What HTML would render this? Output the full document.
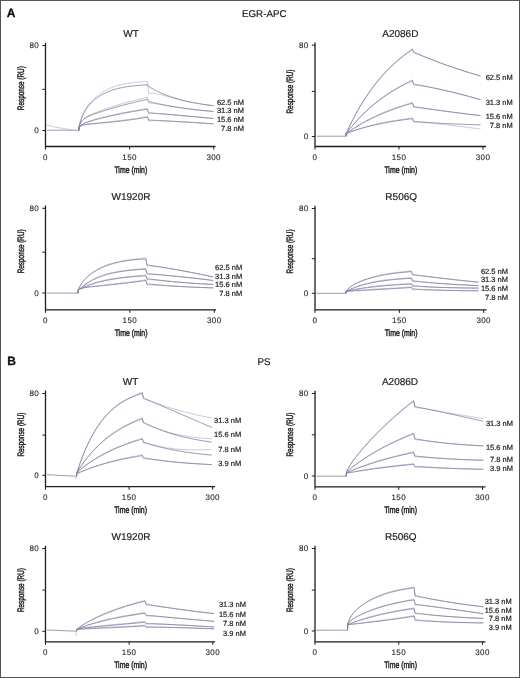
<!DOCTYPE html>
<html><head><meta charset="utf-8"><style>
html,body{margin:0;padding:0;background:#fff;}
body{width:520px;height:678px;overflow:hidden;}
svg{display:block;will-change:transform;}
text{text-rendering:geometricPrecision;font-family:"Liberation Sans", sans-serif;fill:#1e1e1e;stroke:#1e1e1e;stroke-width:0.2px;}
.pl{font-size:12px;font-weight:bold;fill:#111;stroke:#111;stroke-width:0.3px;}
.pt{font-size:9.8px;}
.ti{font-size:10px;}
.tl{font-size:8px;letter-spacing:0.4px;stroke-width:0.1px;}
.cl{font-size:7.5px;}
.at{font-size:9.4px;stroke-width:0.45px;}
.ax{fill:none;stroke:#1e1e1e;stroke-width:1.3;}
.tk{fill:none;stroke:#1e1e1e;stroke-width:1;}
.ft{fill:none;stroke:#7e7e9e;stroke-width:0.8;stroke-linejoin:round;}
.bl{fill:none;stroke:#9090a4;stroke-width:0.9;}
.dt{fill:none;stroke:#c4c4da;stroke-width:0.95;stroke-linejoin:round;}
</style></head><body>
<svg width="520" height="678" viewBox="0 0 520 678">
<rect x="0.5" y="0.5" width="519" height="677" fill="#fff" stroke="#555" stroke-width="1"/>
<text x="6.8" y="16.7" class="pl">A</text>
<text x="264.3" y="16.7" text-anchor="middle" class="pt">EGR-APC</text>
<text x="7.2" y="364.7" class="pl">B</text>
<text x="264" y="364.6" text-anchor="middle" class="pt">PS</text>
<text x="131" y="37" text-anchor="middle" class="ti">WT</text>
<path class="bl" d="M47.00,130.20 L75.80,130.20 L77.80,130.90 L78.80,130.50"/>
<path class="dt" d="M47.00,125.00 L52.00,126.40 L58.00,127.60 L64.00,128.70 L70.00,129.60 L76.00,130.20"/>
<path class="dt" d="M78.80,130.50 L78.99,126.64 L79.35,125.15 L79.81,123.38 L80.35,121.46 L80.97,119.51 L81.65,117.57 L82.39,115.67 L83.19,113.84 L84.04,112.09 L84.94,110.41 L85.88,108.80 L86.87,107.26 L87.89,105.77 L88.96,104.35 L90.07,102.97 L91.22,101.65 L92.40,100.38 L93.62,99.15 L94.87,97.97 L96.15,96.83 L97.47,95.75 L98.82,94.70 L100.20,93.71 L101.61,92.75 L103.05,91.85 L104.52,90.99 L106.02,90.18 L107.55,89.41 L109.10,88.68 L110.68,88.00 L112.29,87.36 L113.92,86.77 L115.58,86.21 L117.27,85.69 L118.98,85.21 L120.71,84.77 L122.47,84.36 L124.25,83.98 L126.06,83.64 L127.89,83.33 L129.74,83.04 L131.61,82.79 L133.51,82.56 L135.43,82.35 L137.37,82.16 L139.33,82.00 L141.32,81.85 L143.33,81.72 L145.35,81.60 L147.40,81.50 L148.60,93.50 L148.87,93.46 L149.32,93.39 L149.86,93.34 L150.49,93.29 L151.18,93.27 L151.94,93.27 L152.74,93.30 L153.59,93.36 L154.48,93.45 L155.42,93.57 L156.39,93.72 L157.40,93.90 L158.44,94.11 L159.52,94.35 L160.63,94.61 L161.77,94.89 L162.93,95.19 L164.13,95.51 L165.35,95.84 L166.59,96.18 L167.87,96.54 L169.16,96.90 L170.48,97.27 L171.83,97.64 L173.19,98.01 L174.58,98.39 L175.99,98.76 L177.42,99.14 L178.87,99.51 L180.34,99.88 L181.83,100.24 L183.35,100.60 L184.87,100.95 L186.42,101.29 L187.99,101.63 L189.57,101.96 L191.18,102.28 L192.80,102.60 L194.43,102.90 L196.09,103.20 L197.76,103.49 L199.44,103.77 L201.15,104.04 L202.87,104.30 L204.60,104.56 L206.35,104.80 L208.11,105.04 L209.89,105.27 L211.69,105.49 L213.50,105.71"/>
<path class="dt" d="M78.80,130.50 L78.99,126.92 L79.35,125.95 L79.81,124.82 L80.35,123.65 L80.97,122.51 L81.65,121.44 L82.39,120.45 L83.19,119.56 L84.04,118.75 L84.94,118.01 L85.88,117.34 L86.87,116.72 L87.89,116.14 L88.96,115.59 L90.07,115.05 L91.22,114.53 L92.40,114.01 L93.62,113.50 L94.87,112.99 L96.15,112.48 L97.47,111.97 L98.82,111.45 L100.20,110.93 L101.61,110.41 L103.05,109.88 L104.52,109.36 L106.02,108.83 L107.55,108.30 L109.10,107.78 L110.68,107.25 L112.29,106.72 L113.92,106.20 L115.58,105.67 L117.27,105.15 L118.98,104.64 L120.71,104.12 L122.47,103.62 L124.25,103.11 L126.06,102.61 L127.89,102.11 L129.74,101.62 L131.61,101.14 L133.51,100.65 L135.43,100.18 L137.37,99.70 L139.33,99.24 L141.32,98.77 L143.33,98.31 L145.35,97.85 L147.40,97.40 L148.60,103.00 L148.87,103.02 L149.32,103.05 L149.86,103.09 L150.49,103.15 L151.18,103.22 L151.94,103.30 L152.74,103.40 L153.59,103.51 L154.48,103.63 L155.42,103.76 L156.39,103.90 L157.40,104.06 L158.44,104.22 L159.52,104.39 L160.63,104.57 L161.77,104.76 L162.93,104.95 L164.13,105.15 L165.35,105.36 L166.59,105.57 L167.87,105.78 L169.16,105.99 L170.48,106.21 L171.83,106.43 L173.19,106.64 L174.58,106.86 L175.99,107.08 L177.42,107.30 L178.87,107.52 L180.34,107.73 L181.83,107.95 L183.35,108.16 L184.87,108.37 L186.42,108.58 L187.99,108.78 L189.57,108.99 L191.18,109.19 L192.80,109.38 L194.43,109.58 L196.09,109.77 L197.76,109.96 L199.44,110.14 L201.15,110.32 L202.87,110.50 L204.60,110.68 L206.35,110.85 L208.11,111.02 L209.89,111.18 L211.69,111.34 L213.50,111.50"/>
<path class="dt" d="M78.80,130.50 L78.99,127.25 L79.35,126.82 L79.81,126.32 L80.35,125.78 L80.97,125.25 L81.65,124.73 L82.39,124.23 L83.19,123.76 L84.04,123.32 L84.94,122.89 L85.88,122.48 L86.87,122.09 L87.89,121.71 L88.96,121.33 L90.07,120.96 L91.22,120.59 L92.40,120.22 L93.62,119.85 L94.87,119.48 L96.15,119.11 L97.47,118.74 L98.82,118.36 L100.20,117.99 L101.61,117.61 L103.05,117.24 L104.52,116.87 L106.02,116.49 L107.55,116.12 L109.10,115.75 L110.68,115.38 L112.29,115.02 L113.92,114.66 L115.58,114.30 L117.27,113.95 L118.98,113.60 L120.71,113.25 L122.47,112.91 L124.25,112.57 L126.06,112.23 L127.89,111.89 L129.74,111.56 L131.61,111.22 L133.51,110.89 L135.43,110.55 L137.37,110.22 L139.33,109.87 L141.32,109.52 L143.33,109.16 L145.35,108.79 L147.40,108.40 L148.60,113.70 L148.87,113.68 L149.32,113.65 L149.86,113.62 L150.49,113.59 L151.18,113.57 L151.94,113.55 L152.74,113.55 L153.59,113.56 L154.48,113.57 L155.42,113.60 L156.39,113.63 L157.40,113.67 L158.44,113.73 L159.52,113.79 L160.63,113.85 L161.77,113.93 L162.93,114.01 L164.13,114.10 L165.35,114.19 L166.59,114.28 L167.87,114.38 L169.16,114.49 L170.48,114.60 L171.83,114.71 L173.19,114.83 L174.58,114.95 L175.99,115.07 L177.42,115.19 L178.87,115.32 L180.34,115.45 L181.83,115.58 L183.35,115.71 L184.87,115.85 L186.42,115.99 L187.99,116.13 L189.57,116.27 L191.18,116.42 L192.80,116.57 L194.43,116.72 L196.09,116.87 L197.76,117.02 L199.44,117.18 L201.15,117.34 L202.87,117.50 L204.60,117.66 L206.35,117.82 L208.11,117.99 L209.89,118.16 L211.69,118.33 L213.50,118.50"/>
<path class="dt" d="M78.80,130.50 L78.99,127.31 L79.35,127.00 L79.81,126.64 L80.35,126.27 L80.97,125.92 L81.65,125.59 L82.39,125.29 L83.19,125.02 L84.04,124.79 L84.94,124.58 L85.88,124.39 L86.87,124.22 L87.89,124.07 L88.96,123.92 L90.07,123.78 L91.22,123.64 L92.40,123.51 L93.62,123.37 L94.87,123.24 L96.15,123.10 L97.47,122.96 L98.82,122.82 L100.20,122.67 L101.61,122.53 L103.05,122.37 L104.52,122.22 L106.02,122.06 L107.55,121.90 L109.10,121.73 L110.68,121.56 L112.29,121.38 L113.92,121.21 L115.58,121.02 L117.27,120.84 L118.98,120.64 L120.71,120.44 L122.47,120.24 L124.25,120.03 L126.06,119.81 L127.89,119.58 L129.74,119.34 L131.61,119.09 L133.51,118.82 L135.43,118.54 L137.37,118.24 L139.33,117.92 L141.32,117.58 L143.33,117.22 L145.35,116.83 L147.40,116.40 L148.60,121.00 L148.87,120.97 L149.32,120.92 L149.86,120.88 L150.49,120.83 L151.18,120.79 L151.94,120.75 L152.74,120.72 L153.59,120.70 L154.48,120.69 L155.42,120.68 L156.39,120.68 L157.40,120.70 L158.44,120.72 L159.52,120.74 L160.63,120.78 L161.77,120.81 L162.93,120.86 L164.13,120.91 L165.35,120.96 L166.59,121.02 L167.87,121.08 L169.16,121.14 L170.48,121.21 L171.83,121.28 L173.19,121.36 L174.58,121.43 L175.99,121.51 L177.42,121.59 L178.87,121.67 L180.34,121.76 L181.83,121.84 L183.35,121.93 L184.87,122.02 L186.42,122.11 L187.99,122.20 L189.57,122.30 L191.18,122.40 L192.80,122.49 L194.43,122.59 L196.09,122.69 L197.76,122.80 L199.44,122.90 L201.15,123.01 L202.87,123.12 L204.60,123.23 L206.35,123.34 L208.11,123.45 L209.89,123.57 L211.69,123.68 L213.50,123.80"/>
<path class="ft" d="M78.80,130.50 L78.99,126.66 L79.35,125.21 L79.81,123.48 L80.35,121.62 L80.97,119.73 L81.65,117.86 L82.39,116.04 L83.19,114.29 L84.04,112.63 L84.94,111.04 L85.88,109.52 L86.87,108.08 L87.89,106.70 L88.96,105.38 L90.07,104.11 L91.22,102.90 L92.40,101.73 L93.62,100.62 L94.87,99.55 L96.15,98.53 L97.47,97.55 L98.82,96.62 L100.20,95.73 L101.61,94.89 L103.05,94.09 L104.52,93.34 L106.02,92.62 L107.55,91.95 L109.10,91.32 L110.68,90.73 L112.29,90.17 L113.92,89.66 L115.58,89.17 L117.27,88.72 L118.98,88.30 L120.71,87.91 L122.47,87.55 L124.25,87.22 L126.06,86.91 L127.89,86.63 L129.74,86.36 L131.61,86.12 L133.51,85.90 L135.43,85.70 L137.37,85.51 L139.33,85.34 L141.32,85.19 L143.33,85.05 L145.35,84.92 L147.40,84.80 L148.60,86.50 L148.87,86.66 L149.32,86.93 L149.86,87.25 L150.49,87.62 L151.18,88.01 L151.94,88.44 L152.74,88.88 L153.59,89.34 L154.48,89.81 L155.42,90.29 L156.39,90.78 L157.40,91.27 L158.44,91.77 L159.52,92.27 L160.63,92.77 L161.77,93.27 L162.93,93.77 L164.13,94.26 L165.35,94.75 L166.59,95.23 L167.87,95.71 L169.16,96.19 L170.48,96.65 L171.83,97.11 L173.19,97.56 L174.58,98.00 L175.99,98.43 L177.42,98.85 L178.87,99.27 L180.34,99.67 L181.83,100.07 L183.35,100.45 L184.87,100.82 L186.42,101.19 L187.99,101.54 L189.57,101.89 L191.18,102.22 L192.80,102.55 L194.43,102.86 L196.09,103.16 L197.76,103.46 L199.44,103.74 L201.15,104.02 L202.87,104.29 L204.60,104.54 L206.35,104.79 L208.11,105.03 L209.89,105.26 L211.69,105.49 L213.50,105.70"/>
<path class="ft" d="M78.80,130.50 L78.99,126.93 L79.35,125.97 L79.81,124.86 L80.35,123.71 L80.97,122.60 L81.65,121.56 L82.39,120.61 L83.19,119.75 L84.04,118.98 L84.94,118.29 L85.88,117.66 L86.87,117.09 L87.89,116.56 L88.96,116.06 L90.07,115.58 L91.22,115.11 L92.40,114.66 L93.62,114.20 L94.87,113.76 L96.15,113.31 L97.47,112.85 L98.82,112.40 L100.20,111.94 L101.61,111.48 L103.05,111.02 L104.52,110.56 L106.02,110.09 L107.55,109.62 L109.10,109.15 L110.68,108.68 L112.29,108.20 L113.92,107.73 L115.58,107.25 L117.27,106.78 L118.98,106.31 L120.71,105.83 L122.47,105.36 L124.25,104.89 L126.06,104.42 L127.89,103.95 L129.74,103.48 L131.61,103.02 L133.51,102.55 L135.43,102.09 L137.37,101.64 L139.33,101.18 L141.32,100.73 L143.33,100.28 L145.35,99.84 L147.40,99.40 L148.60,101.50 L148.87,101.57 L149.32,101.68 L149.86,101.81 L150.49,101.97 L151.18,102.13 L151.94,102.31 L152.74,102.50 L153.59,102.70 L154.48,102.91 L155.42,103.12 L156.39,103.34 L157.40,103.56 L158.44,103.78 L159.52,104.01 L160.63,104.24 L161.77,104.47 L162.93,104.70 L164.13,104.94 L165.35,105.17 L166.59,105.41 L167.87,105.64 L169.16,105.88 L170.48,106.11 L171.83,106.34 L173.19,106.57 L174.58,106.80 L175.99,107.03 L177.42,107.26 L178.87,107.48 L180.34,107.70 L181.83,107.92 L183.35,108.14 L184.87,108.35 L186.42,108.56 L187.99,108.77 L189.57,108.98 L191.18,109.18 L192.80,109.38 L194.43,109.57 L196.09,109.76 L197.76,109.95 L199.44,110.14 L201.15,110.32 L202.87,110.50 L204.60,110.68 L206.35,110.85 L208.11,111.02 L209.89,111.18 L211.69,111.34 L213.50,111.50"/>
<path class="ft" d="M78.80,130.50 L78.99,127.25 L79.35,126.84 L79.81,126.34 L80.35,125.83 L80.97,125.31 L81.65,124.81 L82.39,124.33 L83.19,123.88 L84.04,123.46 L84.94,123.06 L85.88,122.68 L86.87,122.31 L87.89,121.95 L88.96,121.60 L90.07,121.26 L91.22,120.91 L92.40,120.57 L93.62,120.23 L94.87,119.88 L96.15,119.54 L97.47,119.19 L98.82,118.84 L100.20,118.49 L101.61,118.13 L103.05,117.78 L104.52,117.42 L106.02,117.06 L107.55,116.71 L109.10,116.35 L110.68,115.99 L112.29,115.63 L113.92,115.27 L115.58,114.92 L117.27,114.56 L118.98,114.21 L120.71,113.86 L122.47,113.50 L124.25,113.16 L126.06,112.81 L127.89,112.47 L129.74,112.13 L131.61,111.79 L133.51,111.45 L135.43,111.12 L137.37,110.79 L139.33,110.47 L141.32,110.14 L143.33,109.83 L145.35,109.51 L147.40,109.20 L148.60,112.70 L148.87,112.72 L149.32,112.76 L149.86,112.81 L150.49,112.86 L151.18,112.92 L151.94,112.98 L152.74,113.05 L153.59,113.12 L154.48,113.20 L155.42,113.27 L156.39,113.36 L157.40,113.44 L158.44,113.53 L159.52,113.62 L160.63,113.72 L161.77,113.82 L162.93,113.92 L164.13,114.02 L165.35,114.13 L166.59,114.23 L167.87,114.34 L169.16,114.46 L170.48,114.57 L171.83,114.69 L173.19,114.81 L174.58,114.93 L175.99,115.06 L177.42,115.18 L178.87,115.31 L180.34,115.44 L181.83,115.58 L183.35,115.71 L184.87,115.85 L186.42,115.99 L187.99,116.13 L189.57,116.27 L191.18,116.42 L192.80,116.57 L194.43,116.72 L196.09,116.87 L197.76,117.02 L199.44,117.18 L201.15,117.34 L202.87,117.50 L204.60,117.66 L206.35,117.82 L208.11,117.99 L209.89,118.16 L211.69,118.33 L213.50,118.50"/>
<path class="ft" d="M78.80,130.50 L78.99,127.32 L79.35,127.02 L79.81,126.67 L80.35,126.31 L80.97,125.98 L81.65,125.66 L82.39,125.39 L83.19,125.14 L84.04,124.93 L84.94,124.74 L85.88,124.58 L86.87,124.44 L87.89,124.31 L88.96,124.19 L90.07,124.08 L91.22,123.97 L92.40,123.86 L93.62,123.75 L94.87,123.64 L96.15,123.53 L97.47,123.42 L98.82,123.30 L100.20,123.17 L101.61,123.04 L103.05,122.91 L104.52,122.77 L106.02,122.63 L107.55,122.48 L109.10,122.32 L110.68,122.16 L112.29,122.00 L113.92,121.82 L115.58,121.64 L117.27,121.45 L118.98,121.25 L120.71,121.05 L122.47,120.84 L124.25,120.62 L126.06,120.39 L127.89,120.15 L129.74,119.91 L131.61,119.65 L133.51,119.38 L135.43,119.11 L137.37,118.82 L139.33,118.52 L141.32,118.21 L143.33,117.88 L145.35,117.55 L147.40,117.20 L148.60,120.00 L148.87,120.01 L149.32,120.04 L149.86,120.07 L150.49,120.10 L151.18,120.14 L151.94,120.17 L152.74,120.22 L153.59,120.26 L154.48,120.31 L155.42,120.36 L156.39,120.41 L157.40,120.47 L158.44,120.52 L159.52,120.58 L160.63,120.64 L161.77,120.70 L162.93,120.77 L164.13,120.83 L165.35,120.90 L166.59,120.97 L167.87,121.04 L169.16,121.11 L170.48,121.19 L171.83,121.26 L173.19,121.34 L174.58,121.42 L175.99,121.50 L177.42,121.58 L178.87,121.67 L180.34,121.75 L181.83,121.84 L183.35,121.93 L184.87,122.02 L186.42,122.11 L187.99,122.20 L189.57,122.30 L191.18,122.39 L192.80,122.49 L194.43,122.59 L196.09,122.69 L197.76,122.80 L199.44,122.90 L201.15,123.01 L202.87,123.12 L204.60,123.23 L206.35,123.34 L208.11,123.45 L209.89,123.57 L211.69,123.68 L213.50,123.80"/>
<path class="ax" d="M45.5,42.8 V146.5 H215.5"/>
<path class="tk" d="M42.3,45.5 H45.5"/>
<path class="tk" d="M42.3,89.35 H45.5"/>
<path class="tk" d="M42.3,130.5 H45.5"/>
<path class="tk" d="M45.5,146.5 V149.5"/>
<path class="tk" d="M129.6,146.5 V149.5"/>
<path class="tk" d="M213.7,146.5 V149.5"/>
<text x="39.2" y="48.1" text-anchor="end" class="tl">80</text>
<text x="39.2" y="133.1" text-anchor="end" class="tl">0</text>
<text x="45.5" y="159.6" text-anchor="middle" class="tl">0</text>
<text x="129.6" y="159.6" text-anchor="middle" class="tl">150</text>
<text x="213.7" y="159.6" text-anchor="middle" class="tl">300</text>
<text x="130.8" y="172.9" text-anchor="middle" class="at" textLength="32.8" lengthAdjust="spacingAndGlyphs">Time (min)</text>
<text transform="translate(23.9,88.2) rotate(-90)" text-anchor="middle" class="at" textLength="44" lengthAdjust="spacingAndGlyphs">Response (RU)</text>
<text x="244" y="104.6" text-anchor="end" class="cl">62.5 nM</text>
<text x="244" y="113.4" text-anchor="end" class="cl">31.3 nM</text>
<text x="244" y="122.1" text-anchor="end" class="cl">15.6 nM</text>
<text x="244" y="130.6" text-anchor="end" class="cl">7.8 nM</text>
<text x="400.3" y="37" text-anchor="middle" class="ti">A2086D</text>
<path class="bl" d="M316.50,136.20 L346.00,136.20"/>
<path class="dt" d="M346.00,136.20 L346.19,133.29 L346.53,132.54 L346.98,131.57 L347.50,130.43 L348.10,129.16 L348.76,127.77 L349.48,126.27 L350.26,124.68 L351.08,123.02 L351.95,121.28 L352.86,119.49 L353.82,117.64 L354.82,115.75 L355.85,113.82 L356.93,111.86 L358.04,109.87 L359.18,107.86 L360.36,105.84 L361.58,103.80 L362.82,101.75 L364.10,99.70 L365.41,97.65 L366.75,95.60 L368.11,93.56 L369.51,91.53 L370.94,89.51 L372.39,87.51 L373.87,85.53 L375.37,83.56 L376.91,81.62 L378.46,79.70 L380.05,77.80 L381.66,75.94 L383.29,74.10 L384.95,72.29 L386.63,70.51 L388.33,68.77 L390.06,67.05 L391.81,65.36 L393.58,63.71 L395.38,62.09 L397.20,60.50 L399.04,58.93 L400.90,57.40 L402.78,55.89 L404.68,54.41 L406.61,52.96 L408.55,51.52 L410.52,50.10 L412.50,48.70 L413.70,53.10 L413.98,53.18 L414.44,53.31 L415.00,53.48 L415.65,53.68 L416.36,53.90 L417.13,54.16 L417.96,54.44 L418.84,54.75 L419.76,55.08 L420.72,55.44 L421.72,55.81 L422.76,56.20 L423.83,56.61 L424.94,57.03 L426.08,57.47 L427.25,57.93 L428.45,58.39 L429.68,58.86 L430.94,59.35 L432.22,59.84 L433.53,60.34 L434.86,60.85 L436.22,61.36 L437.61,61.88 L439.01,62.41 L440.44,62.94 L441.89,63.47 L443.36,64.01 L444.86,64.55 L446.37,65.09 L447.91,65.63 L449.46,66.18 L451.04,66.72 L452.63,67.27 L454.24,67.82 L455.87,68.37 L457.52,68.92 L459.19,69.47 L460.87,70.02 L462.58,70.57 L464.30,71.12 L466.03,71.67 L467.78,72.21 L469.55,72.76 L471.34,73.30 L473.14,73.85 L474.96,74.39 L476.79,74.93 L478.64,75.46 L480.50,76.00"/>
<path class="dt" d="M346.00,136.20 L346.19,133.45 L346.53,133.00 L346.98,132.42 L347.50,131.73 L348.10,130.96 L348.76,130.12 L349.48,129.21 L350.26,128.25 L351.08,127.24 L351.95,126.19 L352.86,125.09 L353.82,123.97 L354.82,122.81 L355.85,121.63 L356.93,120.42 L358.04,119.20 L359.18,117.96 L360.36,116.71 L361.58,115.44 L362.82,114.17 L364.10,112.90 L365.41,111.62 L366.75,110.34 L368.11,109.06 L369.51,107.79 L370.94,106.52 L372.39,105.26 L373.87,104.00 L375.37,102.76 L376.91,101.52 L378.46,100.30 L380.05,99.10 L381.66,97.90 L383.29,96.72 L384.95,95.56 L386.63,94.41 L388.33,93.28 L390.06,92.17 L391.81,91.08 L393.58,90.00 L395.38,88.93 L397.20,87.88 L399.04,86.85 L400.90,85.83 L402.78,84.82 L404.68,83.83 L406.61,82.84 L408.55,81.86 L410.52,80.88 L412.50,79.90 L413.70,85.10 L413.98,85.10 L414.44,85.12 L415.00,85.14 L415.65,85.18 L416.36,85.23 L417.13,85.29 L417.96,85.37 L418.84,85.47 L419.76,85.58 L420.72,85.71 L421.72,85.85 L422.76,86.01 L423.83,86.18 L424.94,86.36 L426.08,86.56 L427.25,86.77 L428.45,86.99 L429.68,87.22 L430.94,87.47 L432.22,87.72 L433.53,87.98 L434.86,88.26 L436.22,88.54 L437.61,88.83 L439.01,89.13 L440.44,89.44 L441.89,89.76 L443.36,90.08 L444.86,90.42 L446.37,90.76 L447.91,91.12 L449.46,91.48 L451.04,91.85 L452.63,92.23 L454.24,92.63 L455.87,93.02 L457.52,93.43 L459.19,93.85 L460.87,94.28 L462.58,94.72 L464.30,95.17 L466.03,95.63 L467.78,96.10 L469.55,96.58 L471.34,97.07 L473.14,97.57 L474.96,98.09 L476.79,98.61 L478.64,99.15 L480.50,99.70"/>
<path class="dt" d="M346.00,136.20 L346.19,133.56 L346.53,133.31 L346.98,132.99 L347.50,132.61 L348.10,132.18 L348.76,131.71 L349.48,131.21 L350.26,130.67 L351.08,130.10 L351.95,129.51 L352.86,128.90 L353.82,128.26 L354.82,127.61 L355.85,126.94 L356.93,126.26 L358.04,125.57 L359.18,124.87 L360.36,124.15 L361.58,123.43 L362.82,122.71 L364.10,121.98 L365.41,121.24 L366.75,120.51 L368.11,119.78 L369.51,119.04 L370.94,118.31 L372.39,117.58 L373.87,116.85 L375.37,116.13 L376.91,115.41 L378.46,114.70 L380.05,114.00 L381.66,113.30 L383.29,112.61 L384.95,111.93 L386.63,111.26 L388.33,110.59 L390.06,109.93 L391.81,109.28 L393.58,108.64 L395.38,108.01 L397.20,107.38 L399.04,106.75 L400.90,106.13 L402.78,105.52 L404.68,104.90 L406.61,104.28 L408.55,103.66 L410.52,103.04 L412.50,102.40 L413.70,107.60 L413.98,107.60 L414.44,107.60 L415.00,107.61 L415.65,107.63 L416.36,107.65 L417.13,107.70 L417.96,107.75 L418.84,107.82 L419.76,107.90 L420.72,107.99 L421.72,108.09 L422.76,108.21 L423.83,108.33 L424.94,108.46 L426.08,108.61 L427.25,108.76 L428.45,108.91 L429.68,109.08 L430.94,109.24 L432.22,109.42 L433.53,109.60 L434.86,109.78 L436.22,109.96 L437.61,110.15 L439.01,110.35 L440.44,110.54 L441.89,110.74 L443.36,110.94 L444.86,111.14 L446.37,111.34 L447.91,111.55 L449.46,111.76 L451.04,111.96 L452.63,112.17 L454.24,112.38 L455.87,112.59 L457.52,112.80 L459.19,113.02 L460.87,113.23 L462.58,113.44 L464.30,113.66 L466.03,113.87 L467.78,114.09 L469.55,114.30 L471.34,114.52 L473.14,114.74 L474.96,114.95 L476.79,115.17 L478.64,115.38 L480.50,115.60"/>
<path class="dt" d="M346.00,136.20 L346.19,133.62 L346.53,133.48 L346.98,133.29 L347.50,133.08 L348.10,132.83 L348.76,132.57 L349.48,132.28 L350.26,131.98 L351.08,131.66 L351.95,131.33 L352.86,130.98 L353.82,130.63 L354.82,130.27 L355.85,129.90 L356.93,129.52 L358.04,129.15 L359.18,128.76 L360.36,128.38 L361.58,127.99 L362.82,127.60 L364.10,127.22 L365.41,126.83 L366.75,126.45 L368.11,126.06 L369.51,125.69 L370.94,125.31 L372.39,124.94 L373.87,124.58 L375.37,124.22 L376.91,123.87 L378.46,123.52 L380.05,123.18 L381.66,122.85 L383.29,122.52 L384.95,122.21 L386.63,121.90 L388.33,121.59 L390.06,121.30 L391.81,121.01 L393.58,120.72 L395.38,120.44 L397.20,120.16 L399.04,119.89 L400.90,119.62 L402.78,119.34 L404.68,119.07 L406.61,118.79 L408.55,118.50 L410.52,118.21 L412.50,117.90 L413.70,122.30 L413.98,122.28 L414.44,122.26 L415.00,122.23 L415.65,122.21 L416.36,122.20 L417.13,122.20 L417.96,122.21 L418.84,122.23 L419.76,122.26 L420.72,122.31 L421.72,122.36 L422.76,122.43 L423.83,122.50 L424.94,122.58 L426.08,122.68 L427.25,122.78 L428.45,122.88 L429.68,123.00 L430.94,123.12 L432.22,123.24 L433.53,123.37 L434.86,123.51 L436.22,123.65 L437.61,123.80 L439.01,123.95 L440.44,124.11 L441.89,124.27 L443.36,124.43 L444.86,124.60 L446.37,124.77 L447.91,124.95 L449.46,125.13 L451.04,125.31 L452.63,125.50 L454.24,125.69 L455.87,125.89 L457.52,126.09 L459.19,126.29 L460.87,126.50 L462.58,126.71 L464.30,126.93 L466.03,127.15 L467.78,127.38 L469.55,127.61 L471.34,127.85 L473.14,128.09 L474.96,128.33 L476.79,128.58 L478.64,128.84 L480.50,129.10"/>
<path class="ft" d="M346.00,136.20 L346.19,133.29 L346.53,132.55 L346.98,131.60 L347.50,130.48 L348.10,129.22 L348.76,127.84 L349.48,126.37 L350.26,124.80 L351.08,123.16 L351.95,121.45 L352.86,119.68 L353.82,117.86 L354.82,116.00 L355.85,114.09 L356.93,112.16 L358.04,110.20 L359.18,108.21 L360.36,106.21 L361.58,104.20 L362.82,102.18 L364.10,100.15 L365.41,98.13 L366.75,96.10 L368.11,94.08 L369.51,92.07 L370.94,90.07 L372.39,88.08 L373.87,86.11 L375.37,84.16 L376.91,82.22 L378.46,80.31 L380.05,78.42 L381.66,76.55 L383.29,74.71 L384.95,72.90 L386.63,71.12 L388.33,69.36 L390.06,67.64 L391.81,65.95 L393.58,64.28 L395.38,62.66 L397.20,61.06 L399.04,59.50 L400.90,57.97 L402.78,56.47 L404.68,55.01 L406.61,53.58 L408.55,52.19 L410.52,50.83 L412.50,49.50 L413.70,52.10 L413.98,52.22 L414.44,52.42 L415.00,52.67 L415.65,52.95 L416.36,53.26 L417.13,53.60 L417.96,53.95 L418.84,54.33 L419.76,54.72 L420.72,55.13 L421.72,55.55 L422.76,55.98 L423.83,56.43 L424.94,56.88 L426.08,57.35 L427.25,57.82 L428.45,58.30 L429.68,58.79 L430.94,59.29 L432.22,59.80 L433.53,60.31 L434.86,60.82 L436.22,61.34 L437.61,61.87 L439.01,62.39 L440.44,62.93 L441.89,63.46 L443.36,64.00 L444.86,64.54 L446.37,65.08 L447.91,65.63 L449.46,66.17 L451.04,66.72 L452.63,67.27 L454.24,67.82 L455.87,68.37 L457.52,68.92 L459.19,69.47 L460.87,70.02 L462.58,70.57 L464.30,71.12 L466.03,71.67 L467.78,72.21 L469.55,72.76 L471.34,73.30 L473.14,73.85 L474.96,74.39 L476.79,74.93 L478.64,75.46 L480.50,76.00"/>
<path class="ft" d="M346.00,136.20 L346.19,133.46 L346.53,133.01 L346.98,132.44 L347.50,131.77 L348.10,131.02 L348.76,130.20 L349.48,129.31 L350.26,128.37 L351.08,127.38 L351.95,126.35 L352.86,125.29 L353.82,124.18 L354.82,123.05 L355.85,121.90 L356.93,120.72 L358.04,119.52 L359.18,118.31 L360.36,117.08 L361.58,115.85 L362.82,114.60 L364.10,113.35 L365.41,112.10 L366.75,110.84 L368.11,109.58 L369.51,108.33 L370.94,107.08 L372.39,105.83 L373.87,104.59 L375.37,103.35 L376.91,102.13 L378.46,100.91 L380.05,99.71 L381.66,98.52 L383.29,97.34 L384.95,96.17 L386.63,95.02 L388.33,93.88 L390.06,92.76 L391.81,91.66 L393.58,90.57 L395.38,89.50 L397.20,88.45 L399.04,87.41 L400.90,86.40 L402.78,85.40 L404.68,84.42 L406.61,83.46 L408.55,82.52 L410.52,81.60 L412.50,80.70 L413.70,84.10 L413.98,84.15 L414.44,84.23 L415.00,84.34 L415.65,84.45 L416.36,84.58 L417.13,84.73 L417.96,84.88 L418.84,85.04 L419.76,85.21 L420.72,85.40 L421.72,85.59 L422.76,85.79 L423.83,85.99 L424.94,86.21 L426.08,86.43 L427.25,86.67 L428.45,86.91 L429.68,87.15 L430.94,87.41 L432.22,87.67 L433.53,87.95 L434.86,88.23 L436.22,88.51 L437.61,88.81 L439.01,89.11 L440.44,89.43 L441.89,89.75 L443.36,90.08 L444.86,90.41 L446.37,90.76 L447.91,91.12 L449.46,91.48 L451.04,91.85 L452.63,92.23 L454.24,92.62 L455.87,93.02 L457.52,93.43 L459.19,93.85 L460.87,94.28 L462.58,94.72 L464.30,95.17 L466.03,95.63 L467.78,96.10 L469.55,96.58 L471.34,97.07 L473.14,97.57 L474.96,98.09 L476.79,98.61 L478.64,99.15 L480.50,99.70"/>
<path class="ft" d="M346.00,136.20 L346.19,133.57 L346.53,133.33 L346.98,133.02 L347.50,132.65 L348.10,132.24 L348.76,131.79 L349.48,131.30 L350.26,130.79 L351.08,130.24 L351.95,129.68 L352.86,129.09 L353.82,128.48 L354.82,127.85 L355.85,127.21 L356.93,126.56 L358.04,125.89 L359.18,125.22 L360.36,124.53 L361.58,123.84 L362.82,123.14 L364.10,122.43 L365.41,121.72 L366.75,121.01 L368.11,120.30 L369.51,119.58 L370.94,118.86 L372.39,118.15 L373.87,117.44 L375.37,116.73 L376.91,116.02 L378.46,115.31 L380.05,114.61 L381.66,113.92 L383.29,113.23 L384.95,112.54 L386.63,111.86 L388.33,111.19 L390.06,110.52 L391.81,109.87 L393.58,109.22 L395.38,108.57 L397.20,107.94 L399.04,107.32 L400.90,106.70 L402.78,106.09 L404.68,105.50 L406.61,104.91 L408.55,104.33 L410.52,103.76 L412.50,103.20 L413.70,106.60 L413.98,106.64 L414.44,106.71 L415.00,106.80 L415.65,106.90 L416.36,107.01 L417.13,107.13 L417.96,107.26 L418.84,107.39 L419.76,107.53 L420.72,107.68 L421.72,107.83 L422.76,107.98 L423.83,108.15 L424.94,108.31 L426.08,108.48 L427.25,108.65 L428.45,108.83 L429.68,109.01 L430.94,109.19 L432.22,109.37 L433.53,109.56 L434.86,109.75 L436.22,109.94 L437.61,110.14 L439.01,110.33 L440.44,110.53 L441.89,110.73 L443.36,110.93 L444.86,111.14 L446.37,111.34 L447.91,111.55 L449.46,111.75 L451.04,111.96 L452.63,112.17 L454.24,112.38 L455.87,112.59 L457.52,112.80 L459.19,113.02 L460.87,113.23 L462.58,113.44 L464.30,113.66 L466.03,113.87 L467.78,114.09 L469.55,114.30 L471.34,114.52 L473.14,114.74 L474.96,114.95 L476.79,115.17 L478.64,115.38 L480.50,115.60"/>
<path class="ft" d="M346.00,136.20 L346.19,133.63 L346.53,133.49 L346.98,133.32 L347.50,133.12 L348.10,132.89 L348.76,132.64 L349.48,132.38 L350.26,132.10 L351.08,131.80 L351.95,131.49 L352.86,131.17 L353.82,130.85 L354.82,130.51 L355.85,130.17 L356.93,129.82 L358.04,129.47 L359.18,129.11 L360.36,128.75 L361.58,128.39 L362.82,128.03 L364.10,127.67 L365.41,127.31 L366.75,126.94 L368.11,126.58 L369.51,126.23 L370.94,125.87 L372.39,125.51 L373.87,125.16 L375.37,124.82 L376.91,124.47 L378.46,124.13 L380.05,123.80 L381.66,123.46 L383.29,123.14 L384.95,122.82 L386.63,122.50 L388.33,122.19 L390.06,121.89 L391.81,121.59 L393.58,121.29 L395.38,121.01 L397.20,120.73 L399.04,120.45 L400.90,120.18 L402.78,119.92 L404.68,119.66 L406.61,119.41 L408.55,119.17 L410.52,118.93 L412.50,118.70 L413.70,121.30 L413.98,121.33 L414.44,121.37 L415.00,121.42 L415.65,121.48 L416.36,121.55 L417.13,121.62 L417.96,121.69 L418.84,121.76 L419.76,121.84 L420.72,121.92 L421.72,122.00 L422.76,122.09 L423.83,122.17 L424.94,122.26 L426.08,122.34 L427.25,122.43 L428.45,122.51 L429.68,122.60 L430.94,122.68 L432.22,122.77 L433.53,122.85 L434.86,122.94 L436.22,123.02 L437.61,123.10 L439.01,123.19 L440.44,123.27 L441.89,123.35 L443.36,123.42 L444.86,123.50 L446.37,123.58 L447.91,123.65 L449.46,123.73 L451.04,123.80 L452.63,123.87 L454.24,123.94 L455.87,124.01 L457.52,124.07 L459.19,124.14 L460.87,124.20 L462.58,124.26 L464.30,124.32 L466.03,124.38 L467.78,124.44 L469.55,124.49 L471.34,124.55 L473.14,124.60 L474.96,124.65 L476.79,124.70 L478.64,124.75 L480.50,124.80"/>
<path class="ax" d="M315,42.5 V146.5 H486"/>
<path class="tk" d="M311.8,45.2 H315"/>
<path class="tk" d="M311.8,91.4 H315"/>
<path class="tk" d="M311.8,136.5 H315"/>
<path class="tk" d="M315,146.5 V149.5"/>
<path class="tk" d="M399,146.5 V149.5"/>
<path class="tk" d="M483,146.5 V149.5"/>
<text x="308.7" y="47.8" text-anchor="end" class="tl">80</text>
<text x="308.7" y="139.1" text-anchor="end" class="tl">0</text>
<text x="315" y="159.6" text-anchor="middle" class="tl">0</text>
<text x="399" y="159.6" text-anchor="middle" class="tl">150</text>
<text x="483" y="159.6" text-anchor="middle" class="tl">300</text>
<text x="400.8" y="172.9" text-anchor="middle" class="at" textLength="32.8" lengthAdjust="spacingAndGlyphs">Time (min)</text>
<text transform="translate(293.4,91.5) rotate(-90)" text-anchor="middle" class="at" textLength="44" lengthAdjust="spacingAndGlyphs">Response (RU)</text>
<text x="512.8" y="80" text-anchor="end" class="cl">62.5 nM</text>
<text x="512.8" y="105" text-anchor="end" class="cl">31.3 nM</text>
<text x="512.8" y="118.5" text-anchor="end" class="cl">15.6 nM</text>
<text x="512.8" y="128" text-anchor="end" class="cl">7.8 nM</text>
<text x="131" y="200" text-anchor="middle" class="ti">W1920R</text>
<path class="bl" d="M47.00,293.10 L78.00,293.10"/>
<path class="dt" d="M78.00,293.10 L78.19,290.11 L78.54,289.26 L79.00,288.23 L79.53,287.11 L80.14,285.94 L80.82,284.76 L81.55,283.59 L82.34,282.44 L83.18,281.32 L84.06,280.22 L85.00,279.15 L85.97,278.11 L86.99,277.10 L88.05,276.12 L89.14,275.16 L90.27,274.23 L91.44,273.32 L92.64,272.43 L93.88,271.58 L95.15,270.75 L96.45,269.95 L97.79,269.18 L99.15,268.43 L100.55,267.72 L101.97,267.04 L103.42,266.38 L104.90,265.76 L106.41,265.17 L107.95,264.60 L109.51,264.07 L111.10,263.57 L112.71,263.09 L114.35,262.65 L116.02,262.23 L117.71,261.83 L119.42,261.47 L121.16,261.12 L122.92,260.80 L124.71,260.50 L126.51,260.22 L128.34,259.96 L130.20,259.71 L132.07,259.48 L133.97,259.25 L135.89,259.04 L137.83,258.83 L139.79,258.63 L141.77,258.42 L143.78,258.22 L145.80,258.00 L147.00,265.90 L147.28,265.90 L147.73,265.89 L148.29,265.90 L148.93,265.91 L149.64,265.94 L150.41,265.98 L151.23,266.03 L152.10,266.10 L153.01,266.18 L153.97,266.27 L154.96,266.38 L155.99,266.50 L157.06,266.63 L158.16,266.77 L159.29,266.92 L160.45,267.09 L161.64,267.26 L162.86,267.44 L164.11,267.64 L165.38,267.83 L166.68,268.04 L168.01,268.26 L169.35,268.48 L170.73,268.71 L172.12,268.94 L173.54,269.19 L174.98,269.44 L176.44,269.69 L177.93,269.96 L179.43,270.22 L180.95,270.50 L182.49,270.78 L184.06,271.07 L185.64,271.36 L187.24,271.66 L188.86,271.97 L190.49,272.29 L192.15,272.61 L193.82,272.93 L195.51,273.27 L197.22,273.61 L198.94,273.96 L200.68,274.31 L202.44,274.67 L204.21,275.04 L206.00,275.42 L207.80,275.80 L209.62,276.19 L211.45,276.59 L213.30,277.00"/>
<path class="dt" d="M78.00,293.10 L78.19,290.41 L78.54,290.07 L79.00,289.63 L79.53,289.13 L80.14,288.57 L80.82,287.96 L81.55,287.33 L82.34,286.66 L83.18,285.98 L84.06,285.28 L85.00,284.58 L85.97,283.87 L86.99,283.16 L88.05,282.45 L89.14,281.75 L90.27,281.06 L91.44,280.38 L92.64,279.72 L93.88,279.07 L95.15,278.44 L96.45,277.82 L97.79,277.23 L99.15,276.66 L100.55,276.10 L101.97,275.58 L103.42,275.07 L104.90,274.58 L106.41,274.12 L107.95,273.68 L109.51,273.27 L111.10,272.87 L112.71,272.50 L114.35,272.15 L116.02,271.82 L117.71,271.51 L119.42,271.22 L121.16,270.95 L122.92,270.70 L124.71,270.46 L126.51,270.24 L128.34,270.03 L130.20,269.83 L132.07,269.64 L133.97,269.46 L135.89,269.29 L137.83,269.12 L139.79,268.95 L141.77,268.77 L143.78,268.59 L145.80,268.40 L147.00,274.60 L147.28,274.58 L147.73,274.55 L148.29,274.52 L148.93,274.49 L149.64,274.47 L150.41,274.46 L151.23,274.46 L152.10,274.47 L153.01,274.49 L153.97,274.52 L154.96,274.56 L155.99,274.61 L157.06,274.67 L158.16,274.73 L159.29,274.81 L160.45,274.89 L161.64,274.98 L162.86,275.08 L164.11,275.18 L165.38,275.29 L166.68,275.41 L168.01,275.53 L169.35,275.65 L170.73,275.78 L172.12,275.91 L173.54,276.05 L174.98,276.19 L176.44,276.34 L177.93,276.49 L179.43,276.64 L180.95,276.79 L182.49,276.95 L184.06,277.12 L185.64,277.29 L187.24,277.46 L188.86,277.63 L190.49,277.81 L192.15,277.99 L193.82,278.18 L195.51,278.37 L197.22,278.57 L198.94,278.76 L200.68,278.97 L202.44,279.17 L204.21,279.38 L206.00,279.60 L207.80,279.82 L209.62,280.04 L211.45,280.27 L213.30,280.50"/>
<path class="dt" d="M78.00,293.10 L78.19,290.45 L78.54,290.17 L79.00,289.84 L79.53,289.47 L80.14,289.07 L80.82,288.65 L81.55,288.23 L82.34,287.81 L83.18,287.38 L84.06,286.95 L85.00,286.52 L85.97,286.09 L86.99,285.66 L88.05,285.23 L89.14,284.81 L90.27,284.39 L91.44,283.97 L92.64,283.56 L93.88,283.15 L95.15,282.75 L96.45,282.36 L97.79,281.97 L99.15,281.59 L100.55,281.22 L101.97,280.86 L103.42,280.51 L104.90,280.17 L106.41,279.85 L107.95,279.53 L109.51,279.23 L111.10,278.93 L112.71,278.65 L114.35,278.38 L116.02,278.13 L117.71,277.88 L119.42,277.65 L121.16,277.42 L122.92,277.21 L124.71,277.01 L126.51,276.81 L128.34,276.62 L130.20,276.44 L132.07,276.27 L133.97,276.09 L135.89,275.92 L137.83,275.75 L139.79,275.57 L141.77,275.39 L143.78,275.20 L145.80,275.00 L147.00,279.70 L147.28,279.69 L147.73,279.68 L148.29,279.68 L148.93,279.68 L149.64,279.69 L150.41,279.71 L151.23,279.75 L152.10,279.79 L153.01,279.84 L153.97,279.90 L154.96,279.98 L155.99,280.06 L157.06,280.15 L158.16,280.24 L159.29,280.34 L160.45,280.45 L161.64,280.56 L162.86,280.68 L164.11,280.80 L165.38,280.92 L166.68,281.05 L168.01,281.17 L169.35,281.30 L170.73,281.43 L172.12,281.56 L173.54,281.69 L174.98,281.82 L176.44,281.95 L177.93,282.08 L179.43,282.20 L180.95,282.33 L182.49,282.46 L184.06,282.58 L185.64,282.71 L187.24,282.83 L188.86,282.95 L190.49,283.07 L192.15,283.19 L193.82,283.31 L195.51,283.43 L197.22,283.54 L198.94,283.66 L200.68,283.77 L202.44,283.88 L204.21,283.99 L206.00,284.09 L207.80,284.20 L209.62,284.30 L211.45,284.40 L213.30,284.50"/>
<path class="dt" d="M78.00,293.10 L78.19,290.42 L78.54,290.10 L79.00,289.75 L79.53,289.38 L80.14,289.02 L80.82,288.68 L81.55,288.38 L82.34,288.10 L83.18,287.85 L84.06,287.63 L85.00,287.43 L85.97,287.25 L86.99,287.08 L88.05,286.91 L89.14,286.76 L90.27,286.61 L91.44,286.46 L92.64,286.31 L93.88,286.16 L95.15,286.01 L96.45,285.85 L97.79,285.70 L99.15,285.54 L100.55,285.38 L101.97,285.21 L103.42,285.05 L104.90,284.88 L106.41,284.71 L107.95,284.54 L109.51,284.36 L111.10,284.19 L112.71,284.01 L114.35,283.82 L116.02,283.64 L117.71,283.45 L119.42,283.26 L121.16,283.06 L122.92,282.87 L124.71,282.66 L126.51,282.45 L128.34,282.23 L130.20,282.01 L132.07,281.77 L133.97,281.53 L135.89,281.27 L137.83,280.99 L139.79,280.70 L141.77,280.39 L143.78,280.06 L145.80,279.70 L147.00,284.90 L147.28,284.88 L147.73,284.86 L148.29,284.84 L148.93,284.83 L149.64,284.82 L150.41,284.82 L151.23,284.83 L152.10,284.84 L153.01,284.87 L153.97,284.91 L154.96,284.95 L155.99,285.00 L157.06,285.06 L158.16,285.12 L159.29,285.19 L160.45,285.27 L161.64,285.34 L162.86,285.42 L164.11,285.51 L165.38,285.59 L166.68,285.68 L168.01,285.77 L169.35,285.86 L170.73,285.95 L172.12,286.03 L173.54,286.12 L174.98,286.21 L176.44,286.30 L177.93,286.39 L179.43,286.47 L180.95,286.56 L182.49,286.64 L184.06,286.72 L185.64,286.81 L187.24,286.89 L188.86,286.96 L190.49,287.04 L192.15,287.12 L193.82,287.19 L195.51,287.26 L197.22,287.33 L198.94,287.40 L200.68,287.47 L202.44,287.54 L204.21,287.60 L206.00,287.66 L207.80,287.73 L209.62,287.79 L211.45,287.84 L213.30,287.90"/>
<path class="ft" d="M78.00,293.10 L78.19,290.12 L78.54,289.27 L79.00,288.26 L79.53,287.15 L80.14,286.00 L80.82,284.84 L81.55,283.69 L82.34,282.56 L83.18,281.46 L84.06,280.39 L85.00,279.34 L85.97,278.33 L86.99,277.35 L88.05,276.39 L89.14,275.46 L90.27,274.55 L91.44,273.67 L92.64,272.81 L93.88,271.98 L95.15,271.18 L96.45,270.40 L97.79,269.65 L99.15,268.93 L100.55,268.24 L101.97,267.58 L103.42,266.94 L104.90,266.33 L106.41,265.75 L107.95,265.20 L109.51,264.68 L111.10,264.18 L112.71,263.71 L114.35,263.26 L116.02,262.84 L117.71,262.44 L119.42,262.07 L121.16,261.72 L122.92,261.39 L124.71,261.08 L126.51,260.79 L128.34,260.52 L130.20,260.27 L132.07,260.04 L133.97,259.82 L135.89,259.62 L137.83,259.43 L139.79,259.25 L141.77,259.09 L143.78,258.94 L145.80,258.80 L147.00,264.90 L147.28,264.94 L147.73,265.01 L148.29,265.09 L148.93,265.19 L149.64,265.30 L150.41,265.41 L151.23,265.54 L152.10,265.67 L153.01,265.81 L153.97,265.96 L154.96,266.11 L155.99,266.27 L157.06,266.44 L158.16,266.61 L159.29,266.80 L160.45,266.98 L161.64,267.17 L162.86,267.37 L164.11,267.58 L165.38,267.79 L166.68,268.00 L168.01,268.23 L169.35,268.46 L170.73,268.69 L172.12,268.93 L173.54,269.18 L174.98,269.43 L176.44,269.69 L177.93,269.95 L179.43,270.22 L180.95,270.50 L182.49,270.78 L184.06,271.07 L185.64,271.36 L187.24,271.66 L188.86,271.97 L190.49,272.29 L192.15,272.61 L193.82,272.93 L195.51,273.27 L197.22,273.61 L198.94,273.96 L200.68,274.31 L202.44,274.67 L204.21,275.04 L206.00,275.42 L207.80,275.80 L209.62,276.19 L211.45,276.59 L213.30,277.00"/>
<path class="ft" d="M78.00,293.10 L78.19,290.42 L78.54,290.08 L79.00,289.66 L79.53,289.17 L80.14,288.63 L80.82,288.04 L81.55,287.42 L82.34,286.78 L83.18,286.12 L84.06,285.45 L85.00,284.77 L85.97,284.09 L86.99,283.40 L88.05,282.72 L89.14,282.05 L90.27,281.39 L91.44,280.73 L92.64,280.10 L93.88,279.47 L95.15,278.87 L96.45,278.28 L97.79,277.71 L99.15,277.16 L100.55,276.62 L101.97,276.11 L103.42,275.62 L104.90,275.15 L106.41,274.71 L107.95,274.28 L109.51,273.87 L111.10,273.48 L112.71,273.11 L114.35,272.77 L116.02,272.43 L117.71,272.12 L119.42,271.83 L121.16,271.55 L122.92,271.29 L124.71,271.04 L126.51,270.81 L128.34,270.60 L130.20,270.40 L132.07,270.21 L133.97,270.03 L135.89,269.87 L137.83,269.71 L139.79,269.57 L141.77,269.44 L143.78,269.31 L145.80,269.20 L147.00,273.60 L147.28,273.62 L147.73,273.66 L148.29,273.71 L148.93,273.76 L149.64,273.83 L150.41,273.89 L151.23,273.96 L152.10,274.04 L153.01,274.12 L153.97,274.20 L154.96,274.29 L155.99,274.38 L157.06,274.48 L158.16,274.58 L159.29,274.68 L160.45,274.79 L161.64,274.90 L162.86,275.01 L164.11,275.13 L165.38,275.25 L166.68,275.37 L168.01,275.50 L169.35,275.63 L170.73,275.76 L172.12,275.90 L173.54,276.04 L174.98,276.18 L176.44,276.33 L177.93,276.48 L179.43,276.63 L180.95,276.79 L182.49,276.95 L184.06,277.12 L185.64,277.28 L187.24,277.46 L188.86,277.63 L190.49,277.81 L192.15,277.99 L193.82,278.18 L195.51,278.37 L197.22,278.57 L198.94,278.76 L200.68,278.97 L202.44,279.17 L204.21,279.38 L206.00,279.60 L207.80,279.82 L209.62,280.04 L211.45,280.27 L213.30,280.50"/>
<path class="ft" d="M78.00,293.10 L78.19,290.45 L78.54,290.19 L79.00,289.87 L79.53,289.51 L80.14,289.13 L80.82,288.73 L81.55,288.33 L82.34,287.93 L83.18,287.52 L84.06,287.11 L85.00,286.71 L85.97,286.30 L86.99,285.90 L88.05,285.50 L89.14,285.11 L90.27,284.71 L91.44,284.32 L92.64,283.94 L93.88,283.55 L95.15,283.18 L96.45,282.81 L97.79,282.45 L99.15,282.09 L100.55,281.74 L101.97,281.40 L103.42,281.07 L104.90,280.75 L106.41,280.43 L107.95,280.13 L109.51,279.83 L111.10,279.54 L112.71,279.27 L114.35,279.00 L116.02,278.74 L117.71,278.49 L119.42,278.25 L121.16,278.02 L122.92,277.80 L124.71,277.59 L126.51,277.39 L128.34,277.19 L130.20,277.01 L132.07,276.83 L133.97,276.66 L135.89,276.50 L137.83,276.34 L139.79,276.20 L141.77,276.06 L143.78,275.93 L145.80,275.80 L147.00,278.70 L147.28,278.74 L147.73,278.80 L148.29,278.87 L148.93,278.96 L149.64,279.05 L150.41,279.15 L151.23,279.25 L152.10,279.36 L153.01,279.47 L153.97,279.59 L154.96,279.71 L155.99,279.83 L157.06,279.96 L158.16,280.09 L159.29,280.22 L160.45,280.35 L161.64,280.48 L162.86,280.61 L164.11,280.74 L165.38,280.88 L166.68,281.01 L168.01,281.14 L169.35,281.28 L170.73,281.41 L172.12,281.54 L173.54,281.68 L174.98,281.81 L176.44,281.94 L177.93,282.07 L179.43,282.20 L180.95,282.33 L182.49,282.46 L184.06,282.58 L185.64,282.71 L187.24,282.83 L188.86,282.95 L190.49,283.07 L192.15,283.19 L193.82,283.31 L195.51,283.43 L197.22,283.54 L198.94,283.66 L200.68,283.77 L202.44,283.88 L204.21,283.99 L206.00,284.09 L207.80,284.20 L209.62,284.30 L211.45,284.40 L213.30,284.50"/>
<path class="ft" d="M78.00,293.10 L78.19,290.42 L78.54,290.12 L79.00,289.77 L79.53,289.42 L80.14,289.08 L80.82,288.76 L81.55,288.47 L82.34,288.22 L83.18,287.99 L84.06,287.80 L85.00,287.62 L85.97,287.46 L86.99,287.32 L88.05,287.18 L89.14,287.06 L90.27,286.93 L91.44,286.81 L92.64,286.68 L93.88,286.56 L95.15,286.43 L96.45,286.31 L97.79,286.17 L99.15,286.04 L100.55,285.90 L101.97,285.75 L103.42,285.61 L104.90,285.45 L106.41,285.30 L107.95,285.13 L109.51,284.97 L111.10,284.80 L112.71,284.62 L114.35,284.44 L116.02,284.25 L117.71,284.06 L119.42,283.87 L121.16,283.66 L122.92,283.46 L124.71,283.24 L126.51,283.03 L128.34,282.80 L130.20,282.57 L132.07,282.33 L133.97,282.09 L135.89,281.84 L137.83,281.59 L139.79,281.33 L141.77,281.06 L143.78,280.78 L145.80,280.50 L147.00,283.90 L147.28,283.93 L147.73,283.98 L148.29,284.04 L148.93,284.10 L149.64,284.17 L150.41,284.25 L151.23,284.33 L152.10,284.42 L153.01,284.50 L153.97,284.59 L154.96,284.68 L155.99,284.78 L157.06,284.87 L158.16,284.97 L159.29,285.06 L160.45,285.16 L161.64,285.26 L162.86,285.35 L164.11,285.45 L165.38,285.55 L166.68,285.64 L168.01,285.74 L169.35,285.83 L170.73,285.93 L172.12,286.02 L173.54,286.11 L174.98,286.20 L176.44,286.29 L177.93,286.38 L179.43,286.47 L180.95,286.55 L182.49,286.64 L184.06,286.72 L185.64,286.80 L187.24,286.88 L188.86,286.96 L190.49,287.04 L192.15,287.12 L193.82,287.19 L195.51,287.26 L197.22,287.33 L198.94,287.40 L200.68,287.47 L202.44,287.54 L204.21,287.60 L206.00,287.66 L207.80,287.73 L209.62,287.79 L211.45,287.84 L213.30,287.90"/>
<path class="ax" d="M45.5,205.5 V309.8 H216"/>
<path class="tk" d="M42.3,208.3 H45.5"/>
<path class="tk" d="M42.3,252.2 H45.5"/>
<path class="tk" d="M42.3,293 H45.5"/>
<path class="tk" d="M45.5,309.8 V312.8"/>
<path class="tk" d="M129.9,309.8 V312.8"/>
<path class="tk" d="M214.3,309.8 V312.8"/>
<text x="39.2" y="210.9" text-anchor="end" class="tl">80</text>
<text x="39.2" y="295.6" text-anchor="end" class="tl">0</text>
<text x="45.5" y="322.9" text-anchor="middle" class="tl">0</text>
<text x="129.9" y="322.9" text-anchor="middle" class="tl">150</text>
<text x="214.3" y="322.9" text-anchor="middle" class="tl">300</text>
<text x="131.05" y="336.2" text-anchor="middle" class="at" textLength="32.8" lengthAdjust="spacingAndGlyphs">Time (min)</text>
<text transform="translate(23.9,251.3) rotate(-90)" text-anchor="middle" class="at" textLength="44" lengthAdjust="spacingAndGlyphs">Response (RU)</text>
<text x="242.2" y="269.8" text-anchor="end" class="cl">62.5 nM</text>
<text x="242.2" y="278.6" text-anchor="end" class="cl">31.3 nM</text>
<text x="242.2" y="287.3" text-anchor="end" class="cl">15.6 nM</text>
<text x="242.2" y="296.1" text-anchor="end" class="cl">7.8 nM</text>
<text x="401.2" y="200.2" text-anchor="middle" class="ti">R506Q</text>
<path class="bl" d="M316.50,293.30 L346.00,293.30"/>
<path class="dt" d="M346.00,293.30 L346.18,291.04 L346.52,290.57 L346.96,290.02 L347.48,289.41 L348.07,288.78 L348.72,288.15 L349.43,287.52 L350.19,286.90 L350.99,286.29 L351.85,285.70 L352.75,285.12 L353.69,284.55 L354.67,283.99 L355.69,283.44 L356.75,282.90 L357.84,282.37 L358.97,281.85 L360.13,281.33 L361.32,280.83 L362.55,280.33 L363.80,279.84 L365.09,279.36 L366.40,278.90 L367.75,278.44 L369.12,278.00 L370.52,277.57 L371.95,277.15 L373.41,276.74 L374.89,276.35 L376.40,275.98 L377.93,275.61 L379.48,275.27 L381.07,274.93 L382.67,274.61 L384.30,274.31 L385.96,274.02 L387.63,273.74 L389.33,273.47 L391.05,273.22 L392.80,272.98 L394.56,272.74 L396.35,272.52 L398.16,272.30 L399.99,272.09 L401.84,271.88 L403.71,271.67 L405.60,271.46 L407.52,271.25 L409.45,271.03 L411.40,270.80 L412.60,275.50 L412.88,275.49 L413.33,275.49 L413.88,275.48 L414.52,275.49 L415.22,275.50 L415.99,275.53 L416.80,275.57 L417.67,275.62 L418.57,275.68 L419.52,275.75 L420.51,275.83 L421.54,275.92 L422.60,276.03 L423.69,276.14 L424.81,276.26 L425.97,276.38 L427.15,276.51 L428.37,276.65 L429.61,276.79 L430.87,276.94 L432.16,277.09 L433.48,277.25 L434.82,277.41 L436.18,277.57 L437.57,277.74 L438.98,277.90 L440.41,278.07 L441.87,278.24 L443.34,278.41 L444.83,278.59 L446.35,278.76 L447.88,278.94 L449.43,279.12 L451.01,279.29 L452.60,279.47 L454.21,279.65 L455.83,279.83 L457.48,280.01 L459.14,280.19 L460.82,280.38 L462.51,280.56 L464.23,280.74 L465.96,280.92 L467.70,281.11 L469.46,281.29 L471.24,281.47 L473.03,281.65 L474.84,281.84 L476.66,282.02 L478.50,282.20"/>
<path class="dt" d="M346.00,293.30 L346.18,291.20 L346.52,291.03 L346.96,290.81 L347.48,290.55 L348.07,290.26 L348.72,289.95 L349.43,289.61 L350.19,289.27 L350.99,288.90 L351.85,288.53 L352.75,288.15 L353.69,287.76 L354.67,287.37 L355.69,286.97 L356.75,286.58 L357.84,286.18 L358.97,285.79 L360.13,285.41 L361.32,285.02 L362.55,284.64 L363.80,284.27 L365.09,283.91 L366.40,283.55 L367.75,283.21 L369.12,282.87 L370.52,282.54 L371.95,282.23 L373.41,281.92 L374.89,281.63 L376.40,281.35 L377.93,281.08 L379.48,280.82 L381.07,280.57 L382.67,280.33 L384.30,280.11 L385.96,279.90 L387.63,279.69 L389.33,279.50 L391.05,279.32 L392.80,279.14 L394.56,278.97 L396.35,278.81 L398.16,278.65 L399.99,278.50 L401.84,278.34 L403.71,278.19 L405.60,278.03 L407.52,277.86 L409.45,277.69 L411.40,277.50 L412.60,281.75 L412.88,281.74 L413.33,281.73 L413.88,281.71 L414.52,281.71 L415.22,281.71 L415.99,281.73 L416.80,281.75 L417.67,281.78 L418.57,281.82 L419.52,281.87 L420.51,281.93 L421.54,282.00 L422.60,282.08 L423.69,282.16 L424.81,282.24 L425.97,282.34 L427.15,282.43 L428.37,282.53 L429.61,282.63 L430.87,282.74 L432.16,282.84 L433.48,282.95 L434.82,283.06 L436.18,283.17 L437.57,283.27 L438.98,283.38 L440.41,283.49 L441.87,283.60 L443.34,283.70 L444.83,283.81 L446.35,283.91 L447.88,284.02 L449.43,284.12 L451.01,284.22 L452.60,284.32 L454.21,284.42 L455.83,284.51 L457.48,284.61 L459.14,284.70 L460.82,284.79 L462.51,284.88 L464.23,284.97 L465.96,285.05 L467.70,285.13 L469.46,285.22 L471.24,285.30 L473.03,285.38 L474.84,285.45 L476.66,285.53 L478.50,285.60"/>
<path class="dt" d="M346.00,293.30 L346.18,291.25 L346.52,291.17 L346.96,291.06 L347.48,290.94 L348.07,290.80 L348.72,290.65 L349.43,290.48 L350.19,290.31 L350.99,290.13 L351.85,289.94 L352.75,289.75 L353.69,289.55 L354.67,289.35 L355.69,289.14 L356.75,288.94 L357.84,288.73 L358.97,288.52 L360.13,288.31 L361.32,288.10 L362.55,287.89 L363.80,287.69 L365.09,287.48 L366.40,287.28 L367.75,287.08 L369.12,286.89 L370.52,286.70 L371.95,286.51 L373.41,286.33 L374.89,286.16 L376.40,285.99 L377.93,285.82 L379.48,285.66 L381.07,285.51 L382.67,285.36 L384.30,285.22 L385.96,285.09 L387.63,284.96 L389.33,284.83 L391.05,284.71 L392.80,284.59 L394.56,284.47 L396.35,284.36 L398.16,284.25 L399.99,284.13 L401.84,284.01 L403.71,283.89 L405.60,283.76 L407.52,283.62 L409.45,283.47 L411.40,283.30 L412.60,286.60 L412.88,286.58 L413.33,286.56 L413.88,286.54 L414.52,286.52 L415.22,286.51 L415.99,286.51 L416.80,286.51 L417.67,286.52 L418.57,286.54 L419.52,286.56 L420.51,286.59 L421.54,286.63 L422.60,286.67 L423.69,286.72 L424.81,286.76 L425.97,286.82 L427.15,286.87 L428.37,286.92 L429.61,286.98 L430.87,287.04 L432.16,287.09 L433.48,287.15 L434.82,287.20 L436.18,287.26 L437.57,287.31 L438.98,287.36 L440.41,287.41 L441.87,287.46 L443.34,287.50 L444.83,287.55 L446.35,287.59 L447.88,287.63 L449.43,287.67 L451.01,287.71 L452.60,287.75 L454.21,287.78 L455.83,287.81 L457.48,287.84 L459.14,287.87 L460.82,287.90 L462.51,287.92 L464.23,287.95 L465.96,287.97 L467.70,287.99 L469.46,288.01 L471.24,288.03 L473.03,288.05 L474.84,288.07 L476.66,288.08 L478.50,288.10"/>
<path class="dt" d="M346.00,293.30 L346.18,291.29 L346.52,291.26 L346.96,291.22 L347.48,291.18 L348.07,291.13 L348.72,291.08 L349.43,291.03 L350.19,290.97 L350.99,290.90 L351.85,290.83 L352.75,290.76 L353.69,290.69 L354.67,290.61 L355.69,290.53 L356.75,290.45 L357.84,290.36 L358.97,290.27 L360.13,290.18 L361.32,290.09 L362.55,290.00 L363.80,289.91 L365.09,289.81 L366.40,289.72 L367.75,289.62 L369.12,289.53 L370.52,289.43 L371.95,289.34 L373.41,289.24 L374.89,289.15 L376.40,289.05 L377.93,288.96 L379.48,288.86 L381.07,288.77 L382.67,288.68 L384.30,288.59 L385.96,288.49 L387.63,288.40 L389.33,288.30 L391.05,288.21 L392.80,288.11 L394.56,288.01 L396.35,287.90 L398.16,287.79 L399.99,287.67 L401.84,287.54 L403.71,287.41 L405.60,287.26 L407.52,287.09 L409.45,286.91 L411.40,286.70 L412.60,289.90 L412.88,289.88 L413.33,289.84 L413.88,289.80 L414.52,289.76 L415.22,289.73 L415.99,289.70 L416.80,289.68 L417.67,289.67 L418.57,289.66 L419.52,289.67 L420.51,289.67 L421.54,289.69 L422.60,289.71 L423.69,289.73 L424.81,289.76 L425.97,289.79 L427.15,289.82 L428.37,289.86 L429.61,289.90 L430.87,289.94 L432.16,289.98 L433.48,290.02 L434.82,290.06 L436.18,290.10 L437.57,290.14 L438.98,290.18 L440.41,290.22 L441.87,290.25 L443.34,290.29 L444.83,290.33 L446.35,290.36 L447.88,290.39 L449.43,290.43 L451.01,290.46 L452.60,290.49 L454.21,290.51 L455.83,290.54 L457.48,290.57 L459.14,290.59 L460.82,290.62 L462.51,290.64 L464.23,290.66 L465.96,290.68 L467.70,290.70 L469.46,290.72 L471.24,290.74 L473.03,290.75 L474.84,290.77 L476.66,290.79 L478.50,290.80"/>
<path class="ft" d="M346.00,293.30 L346.18,291.04 L346.52,290.59 L346.96,290.05 L347.48,289.46 L348.07,288.84 L348.72,288.23 L349.43,287.62 L350.19,287.02 L350.99,286.43 L351.85,285.86 L352.75,285.31 L353.69,284.77 L354.67,284.23 L355.69,283.71 L356.75,283.20 L357.84,282.69 L358.97,282.20 L360.13,281.71 L361.32,281.23 L362.55,280.76 L363.80,280.29 L365.09,279.84 L366.40,279.40 L367.75,278.96 L369.12,278.54 L370.52,278.12 L371.95,277.72 L373.41,277.33 L374.89,276.95 L376.40,276.58 L377.93,276.22 L379.48,275.88 L381.07,275.55 L382.67,275.23 L384.30,274.92 L385.96,274.62 L387.63,274.34 L389.33,274.06 L391.05,273.80 L392.80,273.55 L394.56,273.31 L396.35,273.08 L398.16,272.86 L399.99,272.66 L401.84,272.46 L403.71,272.27 L405.60,272.09 L407.52,271.92 L409.45,271.75 L411.40,271.60 L412.60,274.50 L412.88,274.54 L413.33,274.60 L413.88,274.68 L414.52,274.76 L415.22,274.86 L415.99,274.96 L416.80,275.07 L417.67,275.19 L418.57,275.31 L419.52,275.43 L420.51,275.56 L421.54,275.70 L422.60,275.84 L423.69,275.98 L424.81,276.13 L425.97,276.27 L427.15,276.43 L428.37,276.58 L429.61,276.74 L430.87,276.89 L432.16,277.06 L433.48,277.22 L434.82,277.38 L436.18,277.55 L437.57,277.72 L438.98,277.89 L440.41,278.06 L441.87,278.23 L443.34,278.41 L444.83,278.58 L446.35,278.76 L447.88,278.94 L449.43,279.11 L451.01,279.29 L452.60,279.47 L454.21,279.65 L455.83,279.83 L457.48,280.01 L459.14,280.19 L460.82,280.38 L462.51,280.56 L464.23,280.74 L465.96,280.92 L467.70,281.11 L469.46,281.29 L471.24,281.47 L473.03,281.65 L474.84,281.84 L476.66,282.02 L478.50,282.20"/>
<path class="ft" d="M346.00,293.30 L346.18,291.21 L346.52,291.05 L346.96,290.84 L347.48,290.59 L348.07,290.32 L348.72,290.03 L349.43,289.71 L350.19,289.39 L350.99,289.05 L351.85,288.70 L352.75,288.34 L353.69,287.98 L354.67,287.61 L355.69,287.24 L356.75,286.87 L357.84,286.51 L358.97,286.14 L360.13,285.78 L361.32,285.42 L362.55,285.07 L363.80,284.73 L365.09,284.39 L366.40,284.05 L367.75,283.73 L369.12,283.41 L370.52,283.10 L371.95,282.80 L373.41,282.51 L374.89,282.22 L376.40,281.95 L377.93,281.69 L379.48,281.43 L381.07,281.18 L382.67,280.95 L384.30,280.72 L385.96,280.50 L387.63,280.29 L389.33,280.09 L391.05,279.90 L392.80,279.72 L394.56,279.54 L396.35,279.37 L398.16,279.21 L399.99,279.06 L401.84,278.92 L403.71,278.78 L405.60,278.65 L407.52,278.53 L409.45,278.41 L411.40,278.30 L412.60,280.75 L412.88,280.78 L413.33,280.84 L413.88,280.91 L414.52,280.98 L415.22,281.07 L415.99,281.16 L416.80,281.25 L417.67,281.35 L418.57,281.45 L419.52,281.56 L420.51,281.67 L421.54,281.78 L422.60,281.89 L423.69,282.00 L424.81,282.11 L425.97,282.23 L427.15,282.34 L428.37,282.46 L429.61,282.57 L430.87,282.69 L432.16,282.80 L433.48,282.92 L434.82,283.03 L436.18,283.15 L437.57,283.26 L438.98,283.37 L440.41,283.48 L441.87,283.59 L443.34,283.70 L444.83,283.81 L446.35,283.91 L447.88,284.01 L449.43,284.12 L451.01,284.22 L452.60,284.32 L454.21,284.41 L455.83,284.51 L457.48,284.61 L459.14,284.70 L460.82,284.79 L462.51,284.88 L464.23,284.97 L465.96,285.05 L467.70,285.13 L469.46,285.22 L471.24,285.30 L473.03,285.38 L474.84,285.45 L476.66,285.53 L478.50,285.60"/>
<path class="ft" d="M346.00,293.30 L346.18,291.26 L346.52,291.19 L346.96,291.09 L347.48,290.98 L348.07,290.86 L348.72,290.73 L349.43,290.58 L350.19,290.43 L350.99,290.27 L351.85,290.11 L352.75,289.94 L353.69,289.77 L354.67,289.59 L355.69,289.41 L356.75,289.23 L357.84,289.05 L358.97,288.87 L360.13,288.69 L361.32,288.50 L362.55,288.32 L363.80,288.14 L365.09,287.96 L366.40,287.78 L367.75,287.60 L369.12,287.43 L370.52,287.26 L371.95,287.08 L373.41,286.92 L374.89,286.75 L376.40,286.59 L377.93,286.43 L379.48,286.28 L381.07,286.13 L382.67,285.98 L384.30,285.83 L385.96,285.69 L387.63,285.56 L389.33,285.42 L391.05,285.29 L392.80,285.17 L394.56,285.04 L396.35,284.92 L398.16,284.81 L399.99,284.70 L401.84,284.59 L403.71,284.48 L405.60,284.38 L407.52,284.28 L409.45,284.19 L411.40,284.10 L412.60,285.60 L412.88,285.63 L413.33,285.68 L413.88,285.73 L414.52,285.80 L415.22,285.87 L415.99,285.94 L416.80,286.01 L417.67,286.09 L418.57,286.17 L419.52,286.25 L420.51,286.32 L421.54,286.40 L422.60,286.48 L423.69,286.56 L424.81,286.63 L425.97,286.71 L427.15,286.78 L428.37,286.85 L429.61,286.92 L430.87,286.99 L432.16,287.05 L433.48,287.12 L434.82,287.18 L436.18,287.24 L437.57,287.29 L438.98,287.35 L440.41,287.40 L441.87,287.45 L443.34,287.50 L444.83,287.54 L446.35,287.59 L447.88,287.63 L449.43,287.67 L451.01,287.71 L452.60,287.74 L454.21,287.78 L455.83,287.81 L457.48,287.84 L459.14,287.87 L460.82,287.90 L462.51,287.92 L464.23,287.95 L465.96,287.97 L467.70,287.99 L469.46,288.01 L471.24,288.03 L473.03,288.05 L474.84,288.07 L476.66,288.08 L478.50,288.10"/>
<path class="ft" d="M346.00,293.30 L346.18,291.29 L346.52,291.27 L346.96,291.25 L347.48,291.22 L348.07,291.19 L348.72,291.16 L349.43,291.12 L350.19,291.09 L350.99,291.04 L351.85,291.00 L352.75,290.95 L353.69,290.90 L354.67,290.85 L355.69,290.80 L356.75,290.74 L357.84,290.68 L358.97,290.62 L360.13,290.56 L361.32,290.50 L362.55,290.43 L363.80,290.36 L365.09,290.29 L366.40,290.22 L367.75,290.14 L369.12,290.07 L370.52,289.99 L371.95,289.91 L373.41,289.83 L374.89,289.74 L376.40,289.66 L377.93,289.57 L379.48,289.48 L381.07,289.39 L382.67,289.29 L384.30,289.20 L385.96,289.10 L387.63,289.00 L389.33,288.89 L391.05,288.79 L392.80,288.68 L394.56,288.58 L396.35,288.46 L398.16,288.35 L399.99,288.24 L401.84,288.12 L403.71,288.00 L405.60,287.88 L407.52,287.75 L409.45,287.63 L411.40,287.50 L412.60,288.90 L412.88,288.92 L413.33,288.95 L413.88,288.99 L414.52,289.04 L415.22,289.08 L415.99,289.13 L416.80,289.19 L417.67,289.24 L418.57,289.29 L419.52,289.35 L420.51,289.41 L421.54,289.46 L422.60,289.52 L423.69,289.57 L424.81,289.63 L425.97,289.68 L427.15,289.74 L428.37,289.79 L429.61,289.84 L430.87,289.89 L432.16,289.94 L433.48,289.99 L434.82,290.03 L436.18,290.08 L437.57,290.12 L438.98,290.17 L440.41,290.21 L441.87,290.25 L443.34,290.28 L444.83,290.32 L446.35,290.36 L447.88,290.39 L449.43,290.42 L451.01,290.46 L452.60,290.49 L454.21,290.51 L455.83,290.54 L457.48,290.57 L459.14,290.59 L460.82,290.62 L462.51,290.64 L464.23,290.66 L465.96,290.68 L467.70,290.70 L469.46,290.72 L471.24,290.74 L473.03,290.75 L474.84,290.77 L476.66,290.79 L478.50,290.80"/>
<path class="ax" d="M315,205.8 V309.9 H486.5"/>
<path class="tk" d="M311.8,208.5 H315"/>
<path class="tk" d="M311.8,258.7 H315"/>
<path class="tk" d="M311.8,293.3 H315"/>
<path class="tk" d="M315,309.9 V312.9"/>
<path class="tk" d="M399.35,309.9 V312.9"/>
<path class="tk" d="M483.7,309.9 V312.9"/>
<text x="308.7" y="211.1" text-anchor="end" class="tl">80</text>
<text x="308.7" y="295.9" text-anchor="end" class="tl">0</text>
<text x="315" y="323" text-anchor="middle" class="tl">0</text>
<text x="399.35" y="323" text-anchor="middle" class="tl">150</text>
<text x="483.7" y="323" text-anchor="middle" class="tl">300</text>
<text x="401.05" y="336.3" text-anchor="middle" class="at" textLength="32.8" lengthAdjust="spacingAndGlyphs">Time (min)</text>
<text transform="translate(293.4,251.4) rotate(-90)" text-anchor="middle" class="at" textLength="44" lengthAdjust="spacingAndGlyphs">Response (RU)</text>
<text x="508" y="273.5" text-anchor="end" class="cl">62.5 nM</text>
<text x="508" y="282.2" text-anchor="end" class="cl">31.3 nM</text>
<text x="508" y="291" text-anchor="end" class="cl">15.6 nM</text>
<text x="508" y="300" text-anchor="end" class="cl">7.8 nM</text>
<text x="130.5" y="384.6" text-anchor="middle" class="ti">WT</text>
<path class="bl" d="M47.00,474.60 L60.00,475.40 L75.40,476.20 L76.00,476.90 L76.50,476.30"/>
<path class="dt" d="M75.80,476.50 L75.80,479.50"/>
<path class="dt" d="M76.50,476.30 L76.69,473.21 L77.03,472.13 L77.47,470.76 L77.99,469.17 L78.58,467.39 L79.24,465.48 L79.95,463.44 L80.71,461.31 L81.52,459.10 L82.39,456.83 L83.29,454.52 L84.24,452.18 L85.22,449.82 L86.25,447.46 L87.31,445.10 L88.41,442.75 L89.55,440.42 L90.71,438.11 L91.91,435.84 L93.15,433.61 L94.41,431.42 L95.70,429.27 L97.03,427.18 L98.38,425.14 L99.76,423.16 L101.17,421.24 L102.61,419.38 L104.07,417.58 L105.56,415.84 L107.08,414.17 L108.62,412.56 L110.19,411.02 L111.78,409.53 L113.40,408.12 L115.04,406.76 L116.70,405.46 L118.39,404.23 L120.10,403.05 L121.83,401.93 L123.58,400.86 L125.36,399.84 L127.16,398.87 L128.98,397.95 L130.82,397.07 L132.68,396.23 L134.56,395.43 L136.47,394.66 L138.39,393.92 L140.34,393.20 L142.30,392.50 L143.50,399.00 L143.79,399.08 L144.25,399.20 L144.83,399.37 L145.49,399.56 L146.22,399.78 L147.00,400.02 L147.85,400.29 L148.74,400.58 L149.68,400.90 L150.67,401.23 L151.69,401.58 L152.75,401.94 L153.85,402.32 L154.98,402.71 L156.14,403.11 L157.34,403.53 L158.56,403.95 L159.82,404.38 L161.10,404.81 L162.41,405.25 L163.75,405.69 L165.11,406.14 L166.50,406.59 L167.91,407.04 L169.34,407.50 L170.80,407.95 L172.28,408.41 L173.79,408.86 L175.31,409.31 L176.86,409.76 L178.42,410.21 L180.01,410.66 L181.62,411.10 L183.25,411.54 L184.89,411.98 L186.56,412.41 L188.24,412.84 L189.94,413.26 L191.66,413.68 L193.40,414.10 L195.16,414.51 L196.93,414.91 L198.72,415.31 L200.52,415.70 L202.35,416.08 L204.19,416.46 L206.04,416.83 L207.91,417.20 L209.80,417.55 L211.70,417.90"/>
<path class="dt" d="M76.50,476.30 L76.69,473.44 L77.03,472.79 L77.47,471.98 L77.99,471.05 L78.58,470.03 L79.24,468.94 L79.95,467.79 L80.71,466.60 L81.52,465.37 L82.39,464.11 L83.29,462.83 L84.24,461.52 L85.22,460.19 L86.25,458.84 L87.31,457.49 L88.41,456.12 L89.55,454.75 L90.71,453.37 L91.91,452.00 L93.15,450.63 L94.41,449.26 L95.70,447.90 L97.03,446.54 L98.38,445.20 L99.76,443.88 L101.17,442.57 L102.61,441.28 L104.07,440.00 L105.56,438.75 L107.08,437.52 L108.62,436.31 L110.19,435.13 L111.78,433.97 L113.40,432.84 L115.04,431.73 L116.70,430.65 L118.39,429.59 L120.10,428.56 L121.83,427.56 L123.58,426.58 L125.36,425.63 L127.16,424.70 L128.98,423.79 L130.82,422.90 L132.68,422.04 L134.56,421.19 L136.47,420.35 L138.39,419.53 L140.34,418.71 L142.30,417.90 L143.50,423.20 L143.79,423.31 L144.25,423.48 L144.83,423.70 L145.49,423.95 L146.22,424.24 L147.00,424.55 L147.85,424.89 L148.74,425.25 L149.68,425.62 L150.67,426.01 L151.69,426.42 L152.75,426.84 L153.85,427.26 L154.98,427.69 L156.14,428.13 L157.34,428.57 L158.56,429.01 L159.82,429.45 L161.10,429.89 L162.41,430.32 L163.75,430.75 L165.11,431.18 L166.50,431.60 L167.91,432.01 L169.34,432.41 L170.80,432.80 L172.28,433.19 L173.79,433.56 L175.31,433.93 L176.86,434.28 L178.42,434.62 L180.01,434.95 L181.62,435.27 L183.25,435.58 L184.89,435.87 L186.56,436.15 L188.24,436.42 L189.94,436.67 L191.66,436.91 L193.40,437.14 L195.16,437.36 L196.93,437.56 L198.72,437.75 L200.52,437.92 L202.35,438.09 L204.19,438.24 L206.04,438.37 L207.91,438.49 L209.80,438.60 L211.70,438.70"/>
<path class="dt" d="M76.50,476.30 L76.69,473.56 L77.03,473.13 L77.47,472.60 L77.99,472.00 L78.58,471.36 L79.24,470.69 L79.95,470.00 L80.71,469.29 L81.52,468.56 L82.39,467.83 L83.29,467.08 L84.24,466.32 L85.22,465.56 L86.25,464.78 L87.31,464.00 L88.41,463.21 L89.55,462.41 L90.71,461.61 L91.91,460.80 L93.15,459.99 L94.41,459.17 L95.70,458.36 L97.03,457.54 L98.38,456.73 L99.76,455.92 L101.17,455.11 L102.61,454.31 L104.07,453.52 L105.56,452.73 L107.08,451.95 L108.62,451.18 L110.19,450.41 L111.78,449.66 L113.40,448.91 L115.04,448.18 L116.70,447.46 L118.39,446.75 L120.10,446.05 L121.83,445.36 L123.58,444.68 L125.36,444.01 L127.16,443.35 L128.98,442.69 L130.82,442.05 L132.68,441.40 L134.56,440.77 L136.47,440.13 L138.39,439.49 L140.34,438.85 L142.30,438.20 L143.50,443.10 L143.79,443.15 L144.25,443.24 L144.83,443.35 L145.49,443.49 L146.22,443.64 L147.00,443.81 L147.85,444.00 L148.74,444.20 L149.68,444.41 L150.67,444.64 L151.69,444.87 L152.75,445.11 L153.85,445.35 L154.98,445.60 L156.14,445.85 L157.34,446.10 L158.56,446.35 L159.82,446.59 L161.10,446.84 L162.41,447.08 L163.75,447.31 L165.11,447.54 L166.50,447.75 L167.91,447.97 L169.34,448.17 L170.80,448.36 L172.28,448.55 L173.79,448.72 L175.31,448.88 L176.86,449.03 L178.42,449.17 L180.01,449.30 L181.62,449.42 L183.25,449.52 L184.89,449.61 L186.56,449.69 L188.24,449.76 L189.94,449.81 L191.66,449.85 L193.40,449.88 L195.16,449.89 L196.93,449.89 L198.72,449.88 L200.52,449.85 L202.35,449.81 L204.19,449.76 L206.04,449.69 L207.91,449.61 L209.80,449.51 L211.70,449.40"/>
<path class="dt" d="M76.50,476.30 L76.69,473.71 L77.03,473.55 L77.47,473.35 L77.99,473.11 L78.58,472.84 L79.24,472.54 L79.95,472.22 L80.71,471.88 L81.52,471.52 L82.39,471.15 L83.29,470.77 L84.24,470.37 L85.22,469.96 L86.25,469.54 L87.31,469.11 L88.41,468.68 L89.55,468.24 L90.71,467.80 L91.91,467.35 L93.15,466.90 L94.41,466.45 L95.70,465.99 L97.03,465.54 L98.38,465.09 L99.76,464.64 L101.17,464.20 L102.61,463.75 L104.07,463.31 L105.56,462.88 L107.08,462.45 L108.62,462.03 L110.19,461.61 L111.78,461.19 L113.40,460.79 L115.04,460.39 L116.70,459.99 L118.39,459.61 L120.10,459.23 L121.83,458.85 L123.58,458.48 L125.36,458.11 L127.16,457.75 L128.98,457.39 L130.82,457.03 L132.68,456.67 L134.56,456.31 L136.47,455.95 L138.39,455.58 L140.34,455.19 L142.30,454.80 L143.50,458.70 L143.79,458.71 L144.25,458.72 L144.83,458.74 L145.49,458.78 L146.22,458.83 L147.00,458.89 L147.85,458.96 L148.74,459.04 L149.68,459.14 L150.67,459.24 L151.69,459.36 L152.75,459.48 L153.85,459.61 L154.98,459.75 L156.14,459.89 L157.34,460.04 L158.56,460.19 L159.82,460.35 L161.10,460.50 L162.41,460.66 L163.75,460.82 L165.11,460.98 L166.50,461.14 L167.91,461.30 L169.34,461.45 L170.80,461.61 L172.28,461.77 L173.79,461.92 L175.31,462.07 L176.86,462.22 L178.42,462.36 L180.01,462.51 L181.62,462.65 L183.25,462.78 L184.89,462.92 L186.56,463.05 L188.24,463.18 L189.94,463.31 L191.66,463.43 L193.40,463.55 L195.16,463.67 L196.93,463.79 L198.72,463.90 L200.52,464.01 L202.35,464.11 L204.19,464.22 L206.04,464.32 L207.91,464.41 L209.80,464.51 L211.70,464.60"/>
<path class="ft" d="M76.50,476.30 L76.69,473.21 L77.03,472.15 L77.47,470.79 L77.99,469.21 L78.58,467.45 L79.24,465.55 L79.95,463.54 L80.71,461.42 L81.52,459.24 L82.39,457.00 L83.29,454.71 L84.24,452.40 L85.22,450.07 L86.25,447.73 L87.31,445.39 L88.41,443.07 L89.55,440.77 L90.71,438.49 L91.91,436.24 L93.15,434.04 L94.41,431.87 L95.70,429.75 L97.03,427.68 L98.38,425.66 L99.76,423.70 L101.17,421.80 L102.61,419.95 L104.07,418.16 L105.56,416.44 L107.08,414.77 L108.62,413.17 L110.19,411.63 L111.78,410.15 L113.40,408.73 L115.04,407.37 L116.70,406.07 L118.39,404.83 L120.10,403.64 L121.83,402.51 L123.58,401.43 L125.36,400.41 L127.16,399.44 L128.98,398.51 L130.82,397.64 L132.68,396.81 L134.56,396.02 L136.47,395.28 L138.39,394.58 L140.34,393.92 L142.30,393.30 L143.50,398.00 L143.79,398.12 L144.25,398.32 L144.83,398.57 L145.49,398.86 L146.22,399.17 L147.00,399.51 L147.85,399.87 L148.74,400.26 L149.68,400.67 L150.67,401.09 L151.69,401.53 L152.75,401.99 L153.85,402.46 L154.98,402.95 L156.14,403.45 L157.34,403.96 L158.56,404.49 L159.82,405.03 L161.10,405.59 L162.41,406.15 L163.75,406.73 L165.11,407.31 L166.50,407.91 L167.91,408.52 L169.34,409.14 L170.80,409.77 L172.28,410.41 L173.79,411.06 L175.31,411.71 L176.86,412.38 L178.42,413.06 L180.01,413.74 L181.62,414.43 L183.25,415.13 L184.89,415.84 L186.56,416.56 L188.24,417.29 L189.94,418.02 L191.66,418.76 L193.40,419.51 L195.16,420.27 L196.93,421.03 L198.72,421.80 L200.52,422.58 L202.35,423.37 L204.19,424.16 L206.04,424.96 L207.91,425.77 L209.80,426.58 L211.70,427.40"/>
<path class="ft" d="M76.50,476.30 L76.69,473.45 L77.03,472.81 L77.47,472.01 L77.99,471.09 L78.58,470.09 L79.24,469.02 L79.95,467.89 L80.71,466.72 L81.52,465.52 L82.39,464.28 L83.29,463.02 L84.24,461.73 L85.22,460.43 L86.25,459.11 L87.31,457.78 L88.41,456.44 L89.55,455.10 L90.71,453.75 L91.91,452.40 L93.15,451.05 L94.41,449.71 L95.70,448.37 L97.03,447.04 L98.38,445.72 L99.76,444.42 L101.17,443.13 L102.61,441.85 L104.07,440.59 L105.56,439.35 L107.08,438.13 L108.62,436.92 L110.19,435.74 L111.78,434.59 L113.40,433.45 L115.04,432.34 L116.70,431.25 L118.39,430.19 L120.10,429.16 L121.83,428.14 L123.58,427.16 L125.36,426.20 L127.16,425.26 L128.98,424.35 L130.82,423.47 L132.68,422.61 L134.56,421.78 L136.47,420.97 L138.39,420.19 L140.34,419.43 L142.30,418.70 L143.50,422.20 L143.79,422.35 L144.25,422.60 L144.83,422.90 L145.49,423.24 L146.22,423.61 L147.00,424.01 L147.85,424.43 L148.74,424.86 L149.68,425.31 L150.67,425.77 L151.69,426.24 L152.75,426.71 L153.85,427.20 L154.98,427.68 L156.14,428.17 L157.34,428.66 L158.56,429.15 L159.82,429.64 L161.10,430.13 L162.41,430.62 L163.75,431.10 L165.11,431.58 L166.50,432.06 L167.91,432.53 L169.34,432.99 L170.80,433.45 L172.28,433.90 L173.79,434.35 L175.31,434.78 L176.86,435.22 L178.42,435.64 L180.01,436.05 L181.62,436.46 L183.25,436.86 L184.89,437.25 L186.56,437.63 L188.24,438.01 L189.94,438.37 L191.66,438.73 L193.40,439.08 L195.16,439.42 L196.93,439.75 L198.72,440.07 L200.52,440.39 L202.35,440.69 L204.19,440.99 L206.04,441.28 L207.91,441.56 L209.80,441.84 L211.70,442.10"/>
<path class="ft" d="M76.50,476.30 L76.69,473.56 L77.03,473.15 L77.47,472.63 L77.99,472.05 L78.58,471.42 L79.24,470.77 L79.95,470.10 L80.71,469.41 L81.52,468.70 L82.39,467.99 L83.29,467.27 L84.24,466.54 L85.22,465.80 L86.25,465.05 L87.31,464.29 L88.41,463.53 L89.55,462.76 L90.71,461.98 L91.91,461.20 L93.15,460.41 L94.41,459.63 L95.70,458.83 L97.03,458.04 L98.38,457.25 L99.76,456.46 L101.17,455.67 L102.61,454.88 L104.07,454.10 L105.56,453.32 L107.08,452.55 L108.62,451.79 L110.19,451.03 L111.78,450.27 L113.40,449.53 L115.04,448.79 L116.70,448.06 L118.39,447.35 L120.10,446.64 L121.83,445.94 L123.58,445.25 L125.36,444.58 L127.16,443.91 L128.98,443.25 L130.82,442.61 L132.68,441.98 L134.56,441.36 L136.47,440.75 L138.39,440.16 L140.34,439.57 L142.30,439.00 L143.50,442.10 L143.79,442.20 L144.25,442.36 L144.83,442.56 L145.49,442.78 L146.22,443.02 L147.00,443.28 L147.85,443.55 L148.74,443.84 L149.68,444.13 L150.67,444.43 L151.69,444.74 L152.75,445.05 L153.85,445.36 L154.98,445.68 L156.14,446.00 L157.34,446.32 L158.56,446.64 L159.82,446.96 L161.10,447.28 L162.41,447.60 L163.75,447.92 L165.11,448.23 L166.50,448.54 L167.91,448.85 L169.34,449.15 L170.80,449.45 L172.28,449.74 L173.79,450.03 L175.31,450.32 L176.86,450.60 L178.42,450.88 L180.01,451.15 L181.62,451.42 L183.25,451.68 L184.89,451.93 L186.56,452.18 L188.24,452.43 L189.94,452.67 L191.66,452.90 L193.40,453.13 L195.16,453.35 L196.93,453.57 L198.72,453.78 L200.52,453.98 L202.35,454.18 L204.19,454.38 L206.04,454.56 L207.91,454.75 L209.80,454.93 L211.70,455.10"/>
<path class="ft" d="M76.50,476.30 L76.69,473.72 L77.03,473.57 L77.47,473.38 L77.99,473.15 L78.58,472.90 L79.24,472.62 L79.95,472.32 L80.71,472.00 L81.52,471.67 L82.39,471.32 L83.29,470.96 L84.24,470.58 L85.22,470.20 L86.25,469.81 L87.31,469.41 L88.41,469.00 L89.55,468.59 L90.71,468.17 L91.91,467.75 L93.15,467.33 L94.41,466.90 L95.70,466.47 L97.03,466.04 L98.38,465.61 L99.76,465.18 L101.17,464.75 L102.61,464.33 L104.07,463.90 L105.56,463.48 L107.08,463.05 L108.62,462.64 L110.19,462.22 L111.78,461.81 L113.40,461.40 L115.04,461.00 L116.70,460.60 L118.39,460.21 L120.10,459.82 L121.83,459.43 L123.58,459.06 L125.36,458.68 L127.16,458.32 L128.98,457.95 L130.82,457.60 L132.68,457.25 L134.56,456.91 L136.47,456.57 L138.39,456.24 L140.34,455.92 L142.30,455.60 L143.50,457.70 L143.79,457.75 L144.25,457.84 L144.83,457.94 L145.49,458.06 L146.22,458.19 L147.00,458.33 L147.85,458.47 L148.74,458.62 L149.68,458.78 L150.67,458.94 L151.69,459.10 L152.75,459.27 L153.85,459.43 L154.98,459.60 L156.14,459.77 L157.34,459.94 L158.56,460.11 L159.82,460.28 L161.10,460.45 L162.41,460.62 L163.75,460.79 L165.11,460.95 L166.50,461.12 L167.91,461.28 L169.34,461.44 L170.80,461.60 L172.28,461.76 L173.79,461.91 L175.31,462.06 L176.86,462.21 L178.42,462.36 L180.01,462.50 L181.62,462.64 L183.25,462.78 L184.89,462.92 L186.56,463.05 L188.24,463.18 L189.94,463.31 L191.66,463.43 L193.40,463.55 L195.16,463.67 L196.93,463.79 L198.72,463.90 L200.52,464.01 L202.35,464.11 L204.19,464.22 L206.04,464.32 L207.91,464.41 L209.80,464.51 L211.70,464.60"/>
<path class="ax" d="M45.5,390.5 V486.7 H215"/>
<path class="tk" d="M42.3,393.5 H45.5"/>
<path class="tk" d="M42.3,435.1 H45.5"/>
<path class="tk" d="M42.3,475.3 H45.5"/>
<path class="tk" d="M45.5,486.7 V489.7"/>
<path class="tk" d="M129.1,486.7 V489.7"/>
<path class="tk" d="M212.7,486.7 V489.7"/>
<text x="39.2" y="396.1" text-anchor="end" class="tl">80</text>
<text x="39.2" y="477.9" text-anchor="end" class="tl">0</text>
<text x="45.5" y="499.8" text-anchor="middle" class="tl">0</text>
<text x="129.1" y="499.8" text-anchor="middle" class="tl">150</text>
<text x="212.7" y="499.8" text-anchor="middle" class="tl">300</text>
<text x="130.55" y="513.1" text-anchor="middle" class="at" textLength="32.8" lengthAdjust="spacingAndGlyphs">Time (min)</text>
<text transform="translate(23.9,434.6) rotate(-90)" text-anchor="middle" class="at" textLength="44" lengthAdjust="spacingAndGlyphs">Response (RU)</text>
<text x="241.2" y="422.5" text-anchor="end" class="cl">31.3 nM</text>
<text x="241.2" y="437.3" text-anchor="end" class="cl">15.6 nM</text>
<text x="241.2" y="451.6" text-anchor="end" class="cl">7.8 nM</text>
<text x="241.2" y="466" text-anchor="end" class="cl">3.9 nM</text>
<text x="400" y="385.2" text-anchor="middle" class="ti">A2086D</text>
<path class="bl" d="M316.50,476.20 L346.30,476.20"/>
<path class="dt" d="M346.30,476.20 L346.30,469.00"/>
<path class="dt" d="M346.30,476.20 L346.49,472.68 L346.84,471.77 L347.29,470.67 L347.83,469.46 L348.43,468.19 L349.10,466.89 L349.83,465.58 L350.61,464.27 L351.45,462.95 L352.33,461.63 L353.25,460.31 L354.22,458.98 L355.24,457.63 L356.29,456.27 L357.37,454.90 L358.50,453.50 L359.66,452.09 L360.86,450.65 L362.09,449.20 L363.35,447.73 L364.65,446.23 L365.97,444.72 L367.33,443.20 L368.71,441.66 L370.13,440.11 L371.57,438.55 L373.05,436.98 L374.55,435.40 L376.07,433.82 L377.62,432.22 L379.20,430.63 L380.81,429.03 L382.44,427.43 L384.09,425.83 L385.77,424.23 L387.48,422.63 L389.20,421.03 L390.96,419.43 L392.73,417.84 L394.53,416.25 L396.35,414.65 L398.19,413.07 L400.05,411.48 L401.94,409.89 L403.85,408.30 L405.78,406.71 L407.73,405.12 L409.70,403.52 L411.69,401.92 L413.70,400.30 L414.90,407.60 L415.19,407.61 L415.65,407.63 L416.23,407.67 L416.89,407.71 L417.62,407.77 L418.41,407.85 L419.26,407.94 L420.16,408.05 L421.10,408.17 L422.09,408.31 L423.11,408.46 L424.18,408.62 L425.28,408.79 L426.41,408.98 L427.58,409.17 L428.78,409.37 L430.01,409.58 L431.26,409.80 L432.55,410.03 L433.86,410.26 L435.21,410.50 L436.57,410.74 L437.96,410.99 L439.38,411.24 L440.82,411.50 L442.28,411.75 L443.77,412.02 L445.28,412.28 L446.80,412.55 L448.36,412.83 L449.93,413.10 L451.52,413.38 L453.13,413.66 L454.76,413.94 L456.41,414.22 L458.08,414.51 L459.77,414.80 L461.48,415.09 L463.20,415.38 L464.95,415.67 L466.71,415.97 L468.49,416.27 L470.28,416.57 L472.09,416.87 L473.92,417.17 L475.76,417.47 L477.62,417.78 L479.50,418.08 L481.39,418.39 L483.30,418.70"/>
<path class="dt" d="M346.30,476.20 L346.49,472.95 L346.84,472.50 L347.29,471.96 L347.83,471.34 L348.43,470.69 L349.10,470.00 L349.83,469.30 L350.61,468.58 L351.45,467.84 L352.33,467.09 L353.25,466.34 L354.22,465.57 L355.24,464.78 L356.29,463.99 L357.37,463.18 L358.50,462.36 L359.66,461.53 L360.86,460.69 L362.09,459.84 L363.35,458.98 L364.65,458.11 L365.97,457.23 L367.33,456.35 L368.71,455.47 L370.13,454.58 L371.57,453.69 L373.05,452.79 L374.55,451.90 L376.07,451.01 L377.62,450.12 L379.20,449.23 L380.81,448.34 L382.44,447.46 L384.09,446.58 L385.77,445.71 L387.48,444.84 L389.20,443.98 L390.96,443.12 L392.73,442.27 L394.53,441.42 L396.35,440.58 L398.19,439.74 L400.05,438.90 L401.94,438.06 L403.85,437.23 L405.78,436.39 L407.73,435.56 L409.70,434.71 L411.69,433.86 L413.70,433.00 L414.90,439.70 L415.19,439.71 L415.65,439.73 L416.23,439.75 L416.89,439.79 L417.62,439.85 L418.41,439.91 L419.26,439.99 L420.16,440.08 L421.10,440.18 L422.09,440.30 L423.11,440.42 L424.18,440.55 L425.28,440.69 L426.41,440.83 L427.58,440.98 L428.78,441.14 L430.01,441.30 L431.26,441.46 L432.55,441.63 L433.86,441.79 L435.21,441.96 L436.57,442.12 L437.96,442.29 L439.38,442.46 L440.82,442.62 L442.28,442.78 L443.77,442.94 L445.28,443.10 L446.80,443.26 L448.36,443.42 L449.93,443.57 L451.52,443.72 L453.13,443.86 L454.76,444.01 L456.41,444.15 L458.08,444.29 L459.77,444.42 L461.48,444.55 L463.20,444.68 L464.95,444.81 L466.71,444.93 L468.49,445.05 L470.28,445.17 L472.09,445.28 L473.92,445.39 L475.76,445.50 L477.62,445.60 L479.50,445.71 L481.39,445.80 L483.30,445.90"/>
<path class="dt" d="M346.30,476.20 L346.49,473.09 L346.84,472.89 L347.29,472.64 L347.83,472.36 L348.43,472.04 L349.10,471.71 L349.83,471.36 L350.61,470.99 L351.45,470.61 L352.33,470.22 L353.25,469.82 L354.22,469.41 L355.24,468.98 L356.29,468.55 L357.37,468.11 L358.50,467.66 L359.66,467.21 L360.86,466.74 L362.09,466.28 L363.35,465.80 L364.65,465.33 L365.97,464.85 L367.33,464.36 L368.71,463.88 L370.13,463.39 L371.57,462.91 L373.05,462.42 L374.55,461.94 L376.07,461.45 L377.62,460.97 L379.20,460.49 L380.81,460.02 L382.44,459.54 L384.09,459.07 L385.77,458.60 L387.48,458.14 L389.20,457.68 L390.96,457.22 L392.73,456.77 L394.53,456.32 L396.35,455.87 L398.19,455.42 L400.05,454.97 L401.94,454.52 L403.85,454.07 L405.78,453.62 L407.73,453.15 L409.70,452.68 L411.69,452.20 L413.70,451.70 L414.90,457.00 L415.19,456.99 L415.65,456.97 L416.23,456.95 L416.89,456.94 L417.62,456.94 L418.41,456.95 L419.26,456.97 L420.16,456.99 L421.10,457.03 L422.09,457.07 L423.11,457.13 L424.18,457.19 L425.28,457.26 L426.41,457.33 L427.58,457.41 L428.78,457.50 L430.01,457.58 L431.26,457.68 L432.55,457.77 L433.86,457.86 L435.21,457.96 L436.57,458.06 L437.96,458.15 L439.38,458.25 L440.82,458.35 L442.28,458.44 L443.77,458.54 L445.28,458.63 L446.80,458.73 L448.36,458.82 L449.93,458.91 L451.52,459.00 L453.13,459.09 L454.76,459.17 L456.41,459.26 L458.08,459.34 L459.77,459.42 L461.48,459.50 L463.20,459.57 L464.95,459.65 L466.71,459.72 L468.49,459.79 L470.28,459.86 L472.09,459.93 L473.92,460.00 L475.76,460.06 L477.62,460.12 L479.50,460.18 L481.39,460.24 L483.30,460.30"/>
<path class="dt" d="M346.30,476.20 L346.49,473.16 L346.84,473.09 L347.29,473.00 L347.83,472.89 L348.43,472.77 L349.10,472.64 L349.83,472.50 L350.61,472.35 L351.45,472.18 L352.33,472.01 L353.25,471.84 L354.22,471.65 L355.24,471.46 L356.29,471.27 L357.37,471.07 L358.50,470.87 L359.66,470.66 L360.86,470.45 L362.09,470.23 L363.35,470.02 L364.65,469.80 L365.97,469.58 L367.33,469.36 L368.71,469.14 L370.13,468.92 L371.57,468.70 L373.05,468.48 L374.55,468.26 L376.07,468.04 L377.62,467.83 L379.20,467.61 L380.81,467.40 L382.44,467.19 L384.09,466.98 L385.77,466.77 L387.48,466.57 L389.20,466.36 L390.96,466.16 L392.73,465.96 L394.53,465.76 L396.35,465.56 L398.19,465.36 L400.05,465.15 L401.94,464.94 L403.85,464.73 L405.78,464.51 L407.73,464.28 L409.70,464.03 L411.69,463.78 L413.70,463.50 L414.90,467.30 L415.19,467.28 L415.65,467.24 L416.23,467.21 L416.89,467.17 L417.62,467.15 L418.41,467.13 L419.26,467.12 L420.16,467.12 L421.10,467.13 L422.09,467.14 L423.11,467.16 L424.18,467.19 L425.28,467.23 L426.41,467.27 L427.58,467.32 L428.78,467.37 L430.01,467.43 L431.26,467.49 L432.55,467.55 L433.86,467.61 L435.21,467.68 L436.57,467.74 L437.96,467.81 L439.38,467.87 L440.82,467.94 L442.28,468.01 L443.77,468.07 L445.28,468.14 L446.80,468.20 L448.36,468.27 L449.93,468.33 L451.52,468.39 L453.13,468.45 L454.76,468.51 L456.41,468.57 L458.08,468.63 L459.77,468.68 L461.48,468.74 L463.20,468.79 L464.95,468.85 L466.71,468.90 L468.49,468.95 L470.28,469.00 L472.09,469.04 L473.92,469.09 L475.76,469.13 L477.62,469.18 L479.50,469.22 L481.39,469.26 L483.30,469.30"/>
<path class="ft" d="M346.30,476.20 L346.49,472.69 L346.84,471.79 L347.29,470.70 L347.83,469.50 L348.43,468.25 L349.10,466.97 L349.83,465.68 L350.61,464.39 L351.45,463.09 L352.33,461.80 L353.25,460.50 L354.22,459.19 L355.24,457.88 L356.29,456.54 L357.37,455.19 L358.50,453.83 L359.66,452.44 L360.86,451.03 L362.09,449.60 L363.35,448.15 L364.65,446.69 L365.97,445.20 L367.33,443.70 L368.71,442.18 L370.13,440.65 L371.57,439.11 L373.05,437.55 L374.55,435.99 L376.07,434.41 L377.62,432.83 L379.20,431.24 L380.81,429.65 L382.44,428.05 L384.09,426.45 L385.77,424.84 L387.48,423.24 L389.20,421.63 L390.96,420.03 L392.73,418.42 L394.53,416.82 L396.35,415.22 L398.19,413.63 L400.05,412.04 L401.94,410.46 L403.85,408.88 L405.78,407.31 L407.73,405.74 L409.70,404.19 L411.69,402.64 L413.70,401.10 L414.90,406.60 L415.19,406.66 L415.65,406.75 L416.23,406.87 L416.89,407.00 L417.62,407.15 L418.41,407.31 L419.26,407.48 L420.16,407.66 L421.10,407.85 L422.09,408.05 L423.11,408.26 L424.18,408.48 L425.28,408.70 L426.41,408.94 L427.58,409.17 L428.78,409.42 L430.01,409.68 L431.26,409.94 L432.55,410.20 L433.86,410.48 L435.21,410.76 L436.57,411.04 L437.96,411.33 L439.38,411.63 L440.82,411.94 L442.28,412.24 L443.77,412.56 L445.28,412.88 L446.80,413.21 L448.36,413.54 L449.93,413.88 L451.52,414.22 L453.13,414.57 L454.76,414.92 L456.41,415.28 L458.08,415.65 L459.77,416.02 L461.48,416.39 L463.20,416.77 L464.95,417.16 L466.71,417.55 L468.49,417.94 L470.28,418.34 L472.09,418.75 L473.92,419.16 L475.76,419.58 L477.62,420.00 L479.50,420.43 L481.39,420.86 L483.30,421.30"/>
<path class="ft" d="M346.30,476.20 L346.49,472.95 L346.84,472.52 L347.29,471.99 L347.83,471.39 L348.43,470.75 L349.10,470.08 L349.83,469.40 L350.61,468.70 L351.45,467.98 L352.33,467.26 L353.25,466.53 L354.22,465.78 L355.24,465.03 L356.29,464.26 L357.37,463.48 L358.50,462.68 L359.66,461.88 L360.86,461.07 L362.09,460.24 L363.35,459.41 L364.65,458.56 L365.97,457.71 L367.33,456.85 L368.71,455.99 L370.13,455.12 L371.57,454.24 L373.05,453.37 L374.55,452.49 L376.07,451.60 L377.62,450.72 L379.20,449.84 L380.81,448.96 L382.44,448.08 L384.09,447.20 L385.77,446.32 L387.48,445.45 L389.20,444.58 L390.96,443.71 L392.73,442.85 L394.53,441.99 L396.35,441.14 L398.19,440.30 L400.05,439.46 L401.94,438.63 L403.85,437.81 L405.78,436.99 L407.73,436.18 L409.70,435.38 L411.69,434.58 L413.70,433.80 L414.90,438.70 L415.19,438.76 L415.65,438.84 L416.23,438.95 L416.89,439.08 L417.62,439.21 L418.41,439.36 L419.26,439.51 L420.16,439.66 L421.10,439.83 L422.09,439.99 L423.11,440.16 L424.18,440.34 L425.28,440.51 L426.41,440.69 L427.58,440.86 L428.78,441.04 L430.01,441.22 L431.26,441.40 L432.55,441.57 L433.86,441.75 L435.21,441.92 L436.57,442.10 L437.96,442.27 L439.38,442.44 L440.82,442.61 L442.28,442.77 L443.77,442.94 L445.28,443.10 L446.80,443.26 L448.36,443.41 L449.93,443.57 L451.52,443.72 L453.13,443.86 L454.76,444.01 L456.41,444.15 L458.08,444.29 L459.77,444.42 L461.48,444.55 L463.20,444.68 L464.95,444.81 L466.71,444.93 L468.49,445.05 L470.28,445.17 L472.09,445.28 L473.92,445.39 L475.76,445.50 L477.62,445.60 L479.50,445.71 L481.39,445.80 L483.30,445.90"/>
<path class="ft" d="M346.30,476.20 L346.49,473.09 L346.84,472.91 L347.29,472.67 L347.83,472.40 L348.43,472.10 L349.10,471.79 L349.83,471.46 L350.61,471.11 L351.45,470.76 L352.33,470.39 L353.25,470.01 L354.22,469.62 L355.24,469.23 L356.29,468.82 L357.37,468.41 L358.50,467.98 L359.66,467.56 L360.86,467.12 L362.09,466.68 L363.35,466.23 L364.65,465.78 L365.97,465.32 L367.33,464.86 L368.71,464.40 L370.13,463.93 L371.57,463.46 L373.05,462.99 L374.55,462.52 L376.07,462.05 L377.62,461.58 L379.20,461.10 L380.81,460.63 L382.44,460.16 L384.09,459.69 L385.77,459.22 L387.48,458.75 L389.20,458.28 L390.96,457.82 L392.73,457.35 L394.53,456.90 L396.35,456.44 L398.19,455.99 L400.05,455.54 L401.94,455.09 L403.85,454.65 L405.78,454.21 L407.73,453.78 L409.70,453.35 L411.69,452.92 L413.70,452.50 L414.90,456.00 L415.19,456.03 L415.65,456.09 L416.23,456.15 L416.89,456.23 L417.62,456.31 L418.41,456.39 L419.26,456.48 L420.16,456.58 L421.10,456.67 L422.09,456.77 L423.11,456.87 L424.18,456.98 L425.28,457.08 L426.41,457.19 L427.58,457.29 L428.78,457.40 L430.01,457.50 L431.26,457.61 L432.55,457.72 L433.86,457.82 L435.21,457.93 L436.57,458.03 L437.96,458.13 L439.38,458.23 L440.82,458.33 L442.28,458.43 L443.77,458.53 L445.28,458.63 L446.80,458.72 L448.36,458.81 L449.93,458.91 L451.52,459.00 L453.13,459.08 L454.76,459.17 L456.41,459.25 L458.08,459.34 L459.77,459.42 L461.48,459.50 L463.20,459.57 L464.95,459.65 L466.71,459.72 L468.49,459.79 L470.28,459.86 L472.09,459.93 L473.92,460.00 L475.76,460.06 L477.62,460.12 L479.50,460.18 L481.39,460.24 L483.30,460.30"/>
<path class="ft" d="M346.30,476.20 L346.49,473.17 L346.84,473.11 L347.29,473.03 L347.83,472.94 L348.43,472.83 L349.10,472.72 L349.83,472.60 L350.61,472.47 L351.45,472.33 L352.33,472.18 L353.25,472.03 L354.22,471.87 L355.24,471.71 L356.29,471.54 L357.37,471.37 L358.50,471.19 L359.66,471.01 L360.86,470.82 L362.09,470.64 L363.35,470.45 L364.65,470.25 L365.97,470.06 L367.33,469.86 L368.71,469.66 L370.13,469.46 L371.57,469.25 L373.05,469.05 L374.55,468.84 L376.07,468.64 L377.62,468.43 L379.20,468.22 L380.81,468.01 L382.44,467.80 L384.09,467.59 L385.77,467.38 L387.48,467.17 L389.20,466.96 L390.96,466.75 L392.73,466.55 L394.53,466.34 L396.35,466.13 L398.19,465.92 L400.05,465.72 L401.94,465.51 L403.85,465.31 L405.78,465.10 L407.73,464.90 L409.70,464.70 L411.69,464.50 L413.70,464.30 L414.90,466.30 L415.19,466.32 L415.65,466.36 L416.23,466.41 L416.89,466.46 L417.62,466.51 L418.41,466.57 L419.26,466.64 L420.16,466.70 L421.10,466.77 L422.09,466.84 L423.11,466.91 L424.18,466.98 L425.28,467.05 L426.41,467.13 L427.58,467.20 L428.78,467.28 L430.01,467.35 L431.26,467.42 L432.55,467.50 L433.86,467.57 L435.21,467.64 L436.57,467.72 L437.96,467.79 L439.38,467.86 L440.82,467.93 L442.28,468.00 L443.77,468.07 L445.28,468.13 L446.80,468.20 L448.36,468.26 L449.93,468.33 L451.52,468.39 L453.13,468.45 L454.76,468.51 L456.41,468.57 L458.08,468.63 L459.77,468.68 L461.48,468.74 L463.20,468.79 L464.95,468.85 L466.71,468.90 L468.49,468.95 L470.28,469.00 L472.09,469.04 L473.92,469.09 L475.76,469.13 L477.62,469.18 L479.50,469.22 L481.39,469.26 L483.30,469.30"/>
<path class="ax" d="M315,390.8 V486.8 H485.5"/>
<path class="tk" d="M311.8,393.5 H315"/>
<path class="tk" d="M311.8,434.8 H315"/>
<path class="tk" d="M311.8,476 H315"/>
<path class="tk" d="M315,486.8 V489.8"/>
<path class="tk" d="M398.75,486.8 V489.8"/>
<path class="tk" d="M482.5,486.8 V489.8"/>
<text x="308.7" y="396.1" text-anchor="end" class="tl">80</text>
<text x="308.7" y="478.6" text-anchor="end" class="tl">0</text>
<text x="315" y="499.9" text-anchor="middle" class="tl">0</text>
<text x="398.75" y="499.9" text-anchor="middle" class="tl">150</text>
<text x="482.5" y="499.9" text-anchor="middle" class="tl">300</text>
<text x="400.55" y="513.2" text-anchor="middle" class="at" textLength="32.8" lengthAdjust="spacingAndGlyphs">Time (min)</text>
<text transform="translate(293.4,434.5) rotate(-90)" text-anchor="middle" class="at" textLength="44" lengthAdjust="spacingAndGlyphs">Response (RU)</text>
<text x="513" y="425.9" text-anchor="end" class="cl">31.3 nM</text>
<text x="513" y="449.8" text-anchor="end" class="cl">15.6 nM</text>
<text x="513" y="461.9" text-anchor="end" class="cl">7.8 nM</text>
<text x="513" y="471.2" text-anchor="end" class="cl">3.9 nM</text>
<text x="131" y="540" text-anchor="middle" class="ti">W1920R</text>
<path class="bl" d="M47.00,630.00 L76.20,631.20 L76.50,631.20"/>
<path class="dt" d="M76.20,631.00 L76.20,636.00"/>
<path class="dt" d="M76.50,631.20 L76.69,629.50 L77.05,629.16 L77.51,628.73 L78.05,628.25 L78.66,627.73 L79.34,627.19 L80.08,626.63 L80.88,626.07 L81.72,625.49 L82.62,624.90 L83.56,624.30 L84.54,623.69 L85.57,623.08 L86.63,622.46 L87.74,621.83 L88.88,621.19 L90.06,620.54 L91.27,619.89 L92.52,619.24 L93.80,618.58 L95.12,617.92 L96.46,617.26 L97.84,616.59 L99.25,615.93 L100.68,615.27 L102.15,614.61 L103.64,613.95 L105.16,613.30 L106.71,612.65 L108.29,612.01 L109.89,611.37 L111.52,610.74 L113.18,610.11 L114.85,609.50 L116.56,608.89 L118.29,608.29 L120.04,607.70 L121.82,607.11 L123.62,606.53 L125.44,605.96 L127.29,605.40 L129.16,604.84 L131.05,604.28 L132.97,603.73 L134.90,603.18 L136.86,602.64 L138.84,602.09 L140.84,601.53 L142.86,600.97 L144.90,600.40 L146.10,605.20 L146.38,605.20 L146.85,605.21 L147.42,605.22 L148.08,605.25 L148.81,605.29 L149.59,605.34 L150.44,605.41 L151.33,605.48 L152.26,605.58 L153.24,605.68 L154.26,605.80 L155.32,605.93 L156.42,606.06 L157.54,606.21 L158.70,606.37 L159.89,606.53 L161.12,606.70 L162.37,606.88 L163.65,607.06 L164.95,607.24 L166.29,607.44 L167.64,607.63 L169.03,607.83 L170.44,608.03 L171.87,608.23 L173.32,608.44 L174.80,608.65 L176.30,608.86 L177.82,609.07 L179.36,609.28 L180.92,609.49 L182.50,609.71 L184.11,609.92 L185.73,610.14 L187.37,610.36 L189.03,610.57 L190.71,610.79 L192.41,611.01 L194.12,611.22 L195.85,611.44 L197.60,611.66 L199.37,611.88 L201.16,612.09 L202.96,612.31 L204.77,612.53 L206.61,612.74 L208.46,612.96 L210.32,613.17 L212.20,613.39 L214.10,613.60"/>
<path class="dt" d="M76.50,631.20 L76.69,629.58 L77.05,629.37 L77.51,629.12 L78.05,628.83 L78.66,628.52 L79.34,628.20 L80.08,627.86 L80.88,627.52 L81.72,627.17 L82.62,626.81 L83.56,626.45 L84.54,626.08 L85.57,625.71 L86.63,625.34 L87.74,624.96 L88.88,624.57 L90.06,624.18 L91.27,623.79 L92.52,623.40 L93.80,623.01 L95.12,622.61 L96.46,622.22 L97.84,621.82 L99.25,621.43 L100.68,621.04 L102.15,620.65 L103.64,620.26 L105.16,619.88 L106.71,619.51 L108.29,619.13 L109.89,618.76 L111.52,618.40 L113.18,618.05 L114.85,617.69 L116.56,617.35 L118.29,617.01 L120.04,616.68 L121.82,616.35 L123.62,616.02 L125.44,615.71 L127.29,615.39 L129.16,615.08 L131.05,614.77 L132.97,614.46 L134.90,614.15 L136.86,613.83 L138.84,613.51 L140.84,613.19 L142.86,612.85 L144.90,612.50 L146.10,616.10 L146.38,616.08 L146.85,616.06 L147.42,616.04 L148.08,616.02 L148.81,616.01 L149.59,616.01 L150.44,616.03 L151.33,616.05 L152.26,616.08 L153.24,616.13 L154.26,616.18 L155.32,616.24 L156.42,616.32 L157.54,616.40 L158.70,616.49 L159.89,616.58 L161.12,616.68 L162.37,616.79 L163.65,616.90 L164.95,617.01 L166.29,617.13 L167.64,617.25 L169.03,617.38 L170.44,617.51 L171.87,617.64 L173.32,617.77 L174.80,617.91 L176.30,618.04 L177.82,618.18 L179.36,618.32 L180.92,618.46 L182.50,618.60 L184.11,618.75 L185.73,618.89 L187.37,619.04 L189.03,619.18 L190.71,619.33 L192.41,619.48 L194.12,619.63 L195.85,619.78 L197.60,619.93 L199.37,620.08 L201.16,620.23 L202.96,620.38 L204.77,620.53 L206.61,620.69 L208.46,620.84 L210.32,620.99 L212.20,621.15 L214.10,621.30"/>
<path class="dt" d="M76.50,631.20 L76.69,629.60 L77.05,629.44 L77.51,629.24 L78.05,629.04 L78.66,628.84 L79.34,628.64 L80.08,628.46 L80.88,628.28 L81.72,628.12 L82.62,627.96 L83.56,627.81 L84.54,627.67 L85.57,627.53 L86.63,627.39 L87.74,627.26 L88.88,627.12 L90.06,626.98 L91.27,626.84 L92.52,626.70 L93.80,626.56 L95.12,626.42 L96.46,626.27 L97.84,626.13 L99.25,625.98 L100.68,625.83 L102.15,625.68 L103.64,625.53 L105.16,625.38 L106.71,625.23 L108.29,625.07 L109.89,624.92 L111.52,624.77 L113.18,624.61 L114.85,624.46 L116.56,624.30 L118.29,624.15 L120.04,623.99 L121.82,623.83 L123.62,623.67 L125.44,623.51 L127.29,623.34 L129.16,623.16 L131.05,622.98 L132.97,622.80 L134.90,622.60 L136.86,622.39 L138.84,622.17 L140.84,621.93 L142.86,621.68 L144.90,621.40 L146.10,624.40 L146.38,624.37 L146.85,624.31 L147.42,624.26 L148.08,624.20 L148.81,624.15 L149.59,624.11 L150.44,624.07 L151.33,624.04 L152.26,624.02 L153.24,624.01 L154.26,624.01 L155.32,624.02 L156.42,624.03 L157.54,624.05 L158.70,624.08 L159.89,624.11 L161.12,624.15 L162.37,624.19 L163.65,624.24 L164.95,624.29 L166.29,624.34 L167.64,624.40 L169.03,624.46 L170.44,624.53 L171.87,624.59 L173.32,624.66 L174.80,624.74 L176.30,624.81 L177.82,624.89 L179.36,624.97 L180.92,625.05 L182.50,625.13 L184.11,625.22 L185.73,625.30 L187.37,625.39 L189.03,625.49 L190.71,625.58 L192.41,625.68 L194.12,625.77 L195.85,625.87 L197.60,625.98 L199.37,626.08 L201.16,626.19 L202.96,626.30 L204.77,626.41 L206.61,626.52 L208.46,626.64 L210.32,626.76 L212.20,626.88 L214.10,627.00"/>
<path class="dt" d="M76.50,631.20 L76.69,629.65 L77.05,629.58 L77.51,629.49 L78.05,629.39 L78.66,629.29 L79.34,629.19 L80.08,629.10 L80.88,629.01 L81.72,628.93 L82.62,628.85 L83.56,628.77 L84.54,628.69 L85.57,628.62 L86.63,628.54 L87.74,628.47 L88.88,628.39 L90.06,628.32 L91.27,628.24 L92.52,628.16 L93.80,628.08 L95.12,628.01 L96.46,627.93 L97.84,627.85 L99.25,627.76 L100.68,627.68 L102.15,627.60 L103.64,627.52 L105.16,627.44 L106.71,627.36 L108.29,627.28 L109.89,627.20 L111.52,627.12 L113.18,627.04 L114.85,626.96 L116.56,626.88 L118.29,626.80 L120.04,626.71 L121.82,626.63 L123.62,626.54 L125.44,626.45 L127.29,626.36 L129.16,626.26 L131.05,626.16 L132.97,626.05 L134.90,625.93 L136.86,625.80 L138.84,625.65 L140.84,625.49 L142.86,625.30 L144.90,625.10 L146.10,627.90 L146.38,627.86 L146.85,627.80 L147.42,627.73 L148.08,627.66 L148.81,627.59 L149.59,627.52 L150.44,627.47 L151.33,627.42 L152.26,627.37 L153.24,627.34 L154.26,627.31 L155.32,627.29 L156.42,627.28 L157.54,627.27 L158.70,627.27 L159.89,627.27 L161.12,627.28 L162.37,627.29 L163.65,627.31 L164.95,627.33 L166.29,627.35 L167.64,627.37 L169.03,627.40 L170.44,627.43 L171.87,627.46 L173.32,627.49 L174.80,627.53 L176.30,627.56 L177.82,627.60 L179.36,627.64 L180.92,627.68 L182.50,627.73 L184.11,627.77 L185.73,627.82 L187.37,627.87 L189.03,627.92 L190.71,627.97 L192.41,628.02 L194.12,628.07 L195.85,628.13 L197.60,628.19 L199.37,628.25 L201.16,628.31 L202.96,628.37 L204.77,628.44 L206.61,628.51 L208.46,628.58 L210.32,628.65 L212.20,628.72 L214.10,628.80"/>
<path class="ft" d="M76.50,631.20 L76.69,629.51 L77.05,629.17 L77.51,628.75 L78.05,628.29 L78.66,627.79 L79.34,627.27 L80.08,626.73 L80.88,626.19 L81.72,625.63 L82.62,625.06 L83.56,624.49 L84.54,623.91 L85.57,623.32 L86.63,622.73 L87.74,622.12 L88.88,621.51 L90.06,620.89 L91.27,620.27 L92.52,619.64 L93.80,619.01 L95.12,618.37 L96.46,617.73 L97.84,617.09 L99.25,616.45 L100.68,615.81 L102.15,615.16 L103.64,614.52 L105.16,613.88 L106.71,613.25 L108.29,612.61 L109.89,611.98 L111.52,611.35 L113.18,610.73 L114.85,610.11 L116.56,609.50 L118.29,608.89 L120.04,608.29 L121.82,607.70 L123.62,607.11 L125.44,606.54 L127.29,605.96 L129.16,605.40 L131.05,604.85 L132.97,604.30 L134.90,603.76 L136.86,603.23 L138.84,602.71 L140.84,602.20 L142.86,601.69 L144.90,601.20 L146.10,604.20 L146.38,604.25 L146.85,604.33 L147.42,604.42 L148.08,604.53 L148.81,604.65 L149.59,604.78 L150.44,604.92 L151.33,605.07 L152.26,605.22 L153.24,605.38 L154.26,605.54 L155.32,605.71 L156.42,605.88 L157.54,606.06 L158.70,606.24 L159.89,606.43 L161.12,606.62 L162.37,606.81 L163.65,607.00 L164.95,607.20 L166.29,607.40 L167.64,607.60 L169.03,607.81 L170.44,608.01 L171.87,608.22 L173.32,608.43 L174.80,608.64 L176.30,608.85 L177.82,609.06 L179.36,609.28 L180.92,609.49 L182.50,609.71 L184.11,609.92 L185.73,610.14 L187.37,610.35 L189.03,610.57 L190.71,610.79 L192.41,611.01 L194.12,611.22 L195.85,611.44 L197.60,611.66 L199.37,611.88 L201.16,612.09 L202.96,612.31 L204.77,612.53 L206.61,612.74 L208.46,612.96 L210.32,613.17 L212.20,613.39 L214.10,613.60"/>
<path class="ft" d="M76.50,631.20 L76.69,629.59 L77.05,629.39 L77.51,629.15 L78.05,628.87 L78.66,628.58 L79.34,628.27 L80.08,627.96 L80.88,627.64 L81.72,627.31 L82.62,626.98 L83.56,626.64 L84.54,626.30 L85.57,625.96 L86.63,625.61 L87.74,625.25 L88.88,624.90 L90.06,624.53 L91.27,624.17 L92.52,623.80 L93.80,623.44 L95.12,623.07 L96.46,622.69 L97.84,622.32 L99.25,621.95 L100.68,621.58 L102.15,621.21 L103.64,620.84 L105.16,620.47 L106.71,620.10 L108.29,619.74 L109.89,619.38 L111.52,619.02 L113.18,618.66 L114.85,618.31 L116.56,617.96 L118.29,617.62 L120.04,617.28 L121.82,616.94 L123.62,616.61 L125.44,616.28 L127.29,615.96 L129.16,615.64 L131.05,615.33 L132.97,615.02 L134.90,614.72 L136.86,614.43 L138.84,614.14 L140.84,613.85 L142.86,613.57 L144.90,613.30 L146.10,615.10 L146.38,615.13 L146.85,615.18 L147.42,615.24 L148.08,615.30 L148.81,615.38 L149.59,615.46 L150.44,615.54 L151.33,615.63 L152.26,615.72 L153.24,615.82 L154.26,615.92 L155.32,616.03 L156.42,616.14 L157.54,616.25 L158.70,616.36 L159.89,616.48 L161.12,616.60 L162.37,616.72 L163.65,616.84 L164.95,616.97 L166.29,617.10 L167.64,617.23 L169.03,617.36 L170.44,617.49 L171.87,617.62 L173.32,617.76 L174.80,617.90 L176.30,618.04 L177.82,618.18 L179.36,618.32 L180.92,618.46 L182.50,618.60 L184.11,618.75 L185.73,618.89 L187.37,619.04 L189.03,619.18 L190.71,619.33 L192.41,619.48 L194.12,619.63 L195.85,619.78 L197.60,619.93 L199.37,620.08 L201.16,620.23 L202.96,620.38 L204.77,620.53 L206.61,620.69 L208.46,620.84 L210.32,620.99 L212.20,621.15 L214.10,621.30"/>
<path class="ft" d="M76.50,631.20 L76.69,629.61 L77.05,629.45 L77.51,629.27 L78.05,629.08 L78.66,628.90 L79.34,628.72 L80.08,628.55 L80.88,628.40 L81.72,628.26 L82.62,628.13 L83.56,628.00 L84.54,627.89 L85.57,627.77 L86.63,627.66 L87.74,627.55 L88.88,627.44 L90.06,627.33 L91.27,627.22 L92.52,627.11 L93.80,626.99 L95.12,626.87 L96.46,626.75 L97.84,626.63 L99.25,626.50 L100.68,626.37 L102.15,626.24 L103.64,626.10 L105.16,625.96 L106.71,625.82 L108.29,625.68 L109.89,625.53 L111.52,625.38 L113.18,625.23 L114.85,625.07 L116.56,624.92 L118.29,624.75 L120.04,624.59 L121.82,624.42 L123.62,624.25 L125.44,624.08 L127.29,623.91 L129.16,623.73 L131.05,623.55 L132.97,623.36 L134.90,623.18 L136.86,622.99 L138.84,622.79 L140.84,622.60 L142.86,622.40 L144.90,622.20 L146.10,623.40 L146.38,623.41 L146.85,623.43 L147.42,623.46 L148.08,623.48 L148.81,623.51 L149.59,623.55 L150.44,623.59 L151.33,623.62 L152.26,623.66 L153.24,623.71 L154.26,623.75 L155.32,623.80 L156.42,623.85 L157.54,623.90 L158.70,623.95 L159.89,624.01 L161.12,624.06 L162.37,624.12 L163.65,624.18 L164.95,624.24 L166.29,624.31 L167.64,624.37 L169.03,624.44 L170.44,624.51 L171.87,624.58 L173.32,624.65 L174.80,624.73 L176.30,624.80 L177.82,624.88 L179.36,624.96 L180.92,625.05 L182.50,625.13 L184.11,625.22 L185.73,625.30 L187.37,625.39 L189.03,625.48 L190.71,625.58 L192.41,625.67 L194.12,625.77 L195.85,625.87 L197.60,625.98 L199.37,626.08 L201.16,626.19 L202.96,626.30 L204.77,626.41 L206.61,626.52 L208.46,626.64 L210.32,626.76 L212.20,626.88 L214.10,627.00"/>
<path class="ft" d="M76.50,631.20 L76.69,629.66 L77.05,629.59 L77.51,629.51 L78.05,629.43 L78.66,629.35 L79.34,629.27 L80.08,629.20 L80.88,629.13 L81.72,629.07 L82.62,629.02 L83.56,628.96 L84.54,628.91 L85.57,628.86 L86.63,628.81 L87.74,628.77 L88.88,628.72 L90.06,628.67 L91.27,628.62 L92.52,628.57 L93.80,628.51 L95.12,628.46 L96.46,628.40 L97.84,628.34 L99.25,628.28 L100.68,628.22 L102.15,628.16 L103.64,628.09 L105.16,628.02 L106.71,627.95 L108.29,627.88 L109.89,627.81 L111.52,627.73 L113.18,627.65 L114.85,627.57 L116.56,627.49 L118.29,627.40 L120.04,627.31 L121.82,627.22 L123.62,627.13 L125.44,627.03 L127.29,626.93 L129.16,626.83 L131.05,626.72 L132.97,626.62 L134.90,626.50 L136.86,626.39 L138.84,626.27 L140.84,626.15 L142.86,626.03 L144.90,625.90 L146.10,626.90 L146.38,626.91 L146.85,626.91 L147.42,626.92 L148.08,626.94 L148.81,626.95 L149.59,626.96 L150.44,626.98 L151.33,627.00 L152.26,627.02 L153.24,627.03 L154.26,627.06 L155.32,627.08 L156.42,627.10 L157.54,627.12 L158.70,627.15 L159.89,627.17 L161.12,627.20 L162.37,627.22 L163.65,627.25 L164.95,627.28 L166.29,627.31 L167.64,627.34 L169.03,627.38 L170.44,627.41 L171.87,627.45 L173.32,627.48 L174.80,627.52 L176.30,627.56 L177.82,627.60 L179.36,627.64 L180.92,627.68 L182.50,627.73 L184.11,627.77 L185.73,627.82 L187.37,627.87 L189.03,627.92 L190.71,627.97 L192.41,628.02 L194.12,628.07 L195.85,628.13 L197.60,628.19 L199.37,628.25 L201.16,628.31 L202.96,628.37 L204.77,628.44 L206.61,628.51 L208.46,628.58 L210.32,628.65 L212.20,628.72 L214.10,628.80"/>
<path class="ax" d="M45.5,545.8 V641.8 H215"/>
<path class="tk" d="M42.3,548.5 H45.5"/>
<path class="tk" d="M42.3,590.1 H45.5"/>
<path class="tk" d="M42.3,631.3 H45.5"/>
<path class="tk" d="M45.5,641.8 V644.8"/>
<path class="tk" d="M129.15,641.8 V644.8"/>
<path class="tk" d="M212.8,641.8 V644.8"/>
<text x="39.2" y="551.1" text-anchor="end" class="tl">80</text>
<text x="39.2" y="633.9" text-anchor="end" class="tl">0</text>
<text x="45.5" y="654.9" text-anchor="middle" class="tl">0</text>
<text x="129.15" y="654.9" text-anchor="middle" class="tl">150</text>
<text x="212.8" y="654.9" text-anchor="middle" class="tl">300</text>
<text x="130.55" y="668.2" text-anchor="middle" class="at" textLength="32.8" lengthAdjust="spacingAndGlyphs">Time (min)</text>
<text transform="translate(23.9,590.1) rotate(-90)" text-anchor="middle" class="at" textLength="44" lengthAdjust="spacingAndGlyphs">Response (RU)</text>
<text x="246" y="607.4" text-anchor="end" class="cl">31.3 nM</text>
<text x="246" y="616.8" text-anchor="end" class="cl">15.6 nM</text>
<text x="246" y="626.2" text-anchor="end" class="cl">7.8 nM</text>
<text x="246" y="635.7" text-anchor="end" class="cl">3.9 nM</text>
<text x="400.8" y="540.2" text-anchor="middle" class="ti">R506Q</text>
<path class="bl" d="M316.50,630.20 L347.50,630.20"/>
<path class="dt" d="M321.40,629.20 L321.40,631.20"/>
<path class="dt" d="M324.40,629.50 L324.40,631.00"/>
<path class="dt" d="M347.50,630.20 L347.69,624.08 L348.03,623.03 L348.48,621.77 L349.00,620.42 L349.60,619.06 L350.26,617.72 L350.98,616.42 L351.76,615.17 L352.58,613.99 L353.45,612.85 L354.36,611.77 L355.32,610.73 L356.32,609.72 L357.35,608.75 L358.43,607.80 L359.54,606.87 L360.68,605.97 L361.86,605.08 L363.08,604.21 L364.32,603.36 L365.60,602.52 L366.91,601.70 L368.25,600.90 L369.61,600.12 L371.01,599.36 L372.44,598.62 L373.89,597.90 L375.37,597.21 L376.87,596.53 L378.41,595.88 L379.96,595.25 L381.55,594.65 L383.16,594.07 L384.79,593.51 L386.45,592.98 L388.13,592.46 L389.83,591.97 L391.56,591.51 L393.31,591.06 L395.08,590.63 L396.88,590.22 L398.70,589.82 L400.54,589.44 L402.40,589.07 L404.28,588.72 L406.18,588.37 L408.11,588.03 L410.05,587.69 L412.02,587.35 L414.00,587.00 L415.20,596.60 L415.48,596.62 L415.95,596.65 L416.53,596.70 L417.18,596.76 L417.91,596.84 L418.70,596.94 L419.54,597.05 L420.43,597.17 L421.37,597.32 L422.35,597.47 L423.38,597.64 L424.44,597.82 L425.53,598.00 L426.66,598.20 L427.82,598.41 L429.02,598.63 L430.24,598.85 L431.49,599.08 L432.77,599.31 L434.08,599.54 L435.42,599.79 L436.78,600.03 L438.16,600.27 L439.57,600.52 L441.01,600.77 L442.46,601.02 L443.94,601.27 L445.44,601.52 L446.96,601.78 L448.51,602.03 L450.07,602.28 L451.66,602.53 L453.26,602.78 L454.89,603.03 L456.53,603.28 L458.19,603.53 L459.88,603.77 L461.58,604.02 L463.29,604.26 L465.03,604.50 L466.78,604.74 L468.55,604.98 L470.34,605.21 L472.14,605.45 L473.96,605.68 L475.80,605.91 L477.65,606.13 L479.52,606.36 L481.40,606.58 L483.30,606.80"/>
<path class="dt" d="M347.50,630.20 L347.69,624.40 L348.03,623.88 L348.48,623.26 L349.00,622.59 L349.60,621.90 L350.26,621.21 L350.98,620.54 L351.76,619.87 L352.58,619.23 L353.45,618.60 L354.36,617.99 L355.32,617.38 L356.32,616.79 L357.35,616.20 L358.43,615.62 L359.54,615.04 L360.68,614.47 L361.86,613.89 L363.08,613.32 L364.32,612.75 L365.60,612.19 L366.91,611.63 L368.25,611.07 L369.61,610.52 L371.01,609.97 L372.44,609.43 L373.89,608.90 L375.37,608.38 L376.87,607.86 L378.41,607.36 L379.96,606.86 L381.55,606.38 L383.16,605.90 L384.79,605.44 L386.45,604.99 L388.13,604.54 L389.83,604.11 L391.56,603.69 L393.31,603.28 L395.08,602.88 L396.88,602.49 L398.70,602.10 L400.54,601.72 L402.40,601.35 L404.28,600.98 L406.18,600.61 L408.11,600.24 L410.05,599.87 L412.02,599.49 L414.00,599.10 L415.20,605.20 L415.48,605.19 L415.95,605.18 L416.53,605.18 L417.18,605.19 L417.91,605.20 L418.70,605.23 L419.54,605.27 L420.43,605.33 L421.37,605.39 L422.35,605.47 L423.38,605.56 L424.44,605.67 L425.53,605.78 L426.66,605.90 L427.82,606.03 L429.02,606.18 L430.24,606.32 L431.49,606.48 L432.77,606.64 L434.08,606.81 L435.42,606.99 L436.78,607.17 L438.16,607.35 L439.57,607.54 L441.01,607.74 L442.46,607.94 L443.94,608.14 L445.44,608.35 L446.96,608.56 L448.51,608.77 L450.07,608.99 L451.66,609.21 L453.26,609.43 L454.89,609.66 L456.53,609.89 L458.19,610.12 L459.88,610.36 L461.58,610.60 L463.29,610.84 L465.03,611.09 L466.78,611.34 L468.55,611.59 L470.34,611.84 L472.14,612.10 L473.96,612.36 L475.80,612.62 L477.65,612.89 L479.52,613.16 L481.40,613.43 L483.30,613.70"/>
<path class="dt" d="M347.50,630.20 L347.69,624.62 L348.03,624.48 L348.48,624.30 L349.00,624.09 L349.60,623.85 L350.26,623.59 L350.98,623.30 L351.76,623.00 L352.58,622.69 L353.45,622.36 L354.36,622.01 L355.32,621.66 L356.32,621.30 L357.35,620.93 L358.43,620.55 L359.54,620.16 L360.68,619.77 L361.86,619.38 L363.08,618.98 L364.32,618.58 L365.60,618.18 L366.91,617.78 L368.25,617.38 L369.61,616.98 L371.01,616.58 L372.44,616.18 L373.89,615.79 L375.37,615.40 L376.87,615.01 L378.41,614.63 L379.96,614.26 L381.55,613.88 L383.16,613.52 L384.79,613.16 L386.45,612.80 L388.13,612.45 L389.83,612.11 L391.56,611.77 L393.31,611.44 L395.08,611.11 L396.88,610.79 L398.70,610.46 L400.54,610.14 L402.40,609.82 L404.28,609.50 L406.18,609.18 L408.11,608.85 L410.05,608.51 L412.02,608.16 L414.00,607.80 L415.20,613.90 L415.48,613.90 L415.95,613.89 L416.53,613.90 L417.18,613.91 L417.91,613.93 L418.70,613.96 L419.54,614.00 L420.43,614.05 L421.37,614.12 L422.35,614.19 L423.38,614.27 L424.44,614.36 L425.53,614.46 L426.66,614.56 L427.82,614.67 L429.02,614.79 L430.24,614.90 L431.49,615.02 L432.77,615.14 L434.08,615.27 L435.42,615.39 L436.78,615.52 L438.16,615.64 L439.57,615.77 L441.01,615.89 L442.46,616.02 L443.94,616.14 L445.44,616.26 L446.96,616.38 L448.51,616.50 L450.07,616.62 L451.66,616.73 L453.26,616.84 L454.89,616.95 L456.53,617.06 L458.19,617.17 L459.88,617.27 L461.58,617.37 L463.29,617.47 L465.03,617.56 L466.78,617.66 L468.55,617.75 L470.34,617.84 L472.14,617.93 L473.96,618.01 L475.80,618.09 L477.65,618.17 L479.52,618.25 L481.40,618.33 L483.30,618.40"/>
<path class="dt" d="M347.50,630.20 L347.69,624.68 L348.03,624.63 L348.48,624.58 L349.00,624.51 L349.60,624.43 L350.26,624.35 L350.98,624.25 L351.76,624.15 L352.58,624.04 L353.45,623.93 L354.36,623.81 L355.32,623.69 L356.32,623.56 L357.35,623.42 L358.43,623.28 L359.54,623.13 L360.68,622.98 L361.86,622.82 L363.08,622.66 L364.32,622.50 L365.60,622.33 L366.91,622.16 L368.25,621.99 L369.61,621.81 L371.01,621.63 L372.44,621.44 L373.89,621.25 L375.37,621.06 L376.87,620.87 L378.41,620.67 L379.96,620.47 L381.55,620.27 L383.16,620.07 L384.79,619.86 L386.45,619.65 L388.13,619.43 L389.83,619.21 L391.56,618.99 L393.31,618.76 L395.08,618.52 L396.88,618.28 L398.70,618.03 L400.54,617.77 L402.40,617.49 L404.28,617.21 L406.18,616.91 L408.11,616.59 L410.05,616.25 L412.02,615.89 L414.00,615.50 L415.20,620.80 L415.48,620.79 L415.95,620.77 L416.53,620.75 L417.18,620.74 L417.91,620.73 L418.70,620.73 L419.54,620.74 L420.43,620.76 L421.37,620.79 L422.35,620.83 L423.38,620.87 L424.44,620.92 L425.53,620.97 L426.66,621.03 L427.82,621.09 L429.02,621.16 L430.24,621.23 L431.49,621.30 L432.77,621.37 L434.08,621.44 L435.42,621.51 L436.78,621.58 L438.16,621.65 L439.57,621.72 L441.01,621.79 L442.46,621.86 L443.94,621.92 L445.44,621.98 L446.96,622.05 L448.51,622.11 L450.07,622.16 L451.66,622.22 L453.26,622.27 L454.89,622.32 L456.53,622.37 L458.19,622.42 L459.88,622.47 L461.58,622.51 L463.29,622.55 L465.03,622.59 L466.78,622.63 L468.55,622.67 L470.34,622.70 L472.14,622.73 L473.96,622.77 L475.80,622.79 L477.65,622.82 L479.52,622.85 L481.40,622.88 L483.30,622.90"/>
<path class="ft" d="M347.50,630.20 L347.69,624.09 L348.03,623.04 L348.48,621.80 L349.00,620.47 L349.60,619.12 L350.26,617.79 L350.98,616.51 L351.76,615.29 L352.58,614.13 L353.45,613.02 L354.36,611.96 L355.32,610.95 L356.32,609.97 L357.35,609.02 L358.43,608.10 L359.54,607.20 L360.68,606.32 L361.86,605.46 L363.08,604.61 L364.32,603.78 L365.60,602.97 L366.91,602.18 L368.25,601.40 L369.61,600.64 L371.01,599.90 L372.44,599.18 L373.89,598.47 L375.37,597.79 L376.87,597.13 L378.41,596.49 L379.96,595.86 L381.55,595.26 L383.16,594.68 L384.79,594.13 L386.45,593.59 L388.13,593.07 L389.83,592.57 L391.56,592.10 L393.31,591.64 L395.08,591.20 L396.88,590.78 L398.70,590.38 L400.54,590.00 L402.40,589.64 L404.28,589.29 L406.18,588.96 L408.11,588.65 L410.05,588.35 L412.02,588.07 L414.00,587.80 L415.20,595.60 L415.48,595.66 L415.95,595.77 L416.53,595.90 L417.18,596.05 L417.91,596.21 L418.70,596.38 L419.54,596.56 L420.43,596.76 L421.37,596.96 L422.35,597.17 L423.38,597.38 L424.44,597.60 L425.53,597.83 L426.66,598.06 L427.82,598.29 L429.02,598.53 L430.24,598.77 L431.49,599.01 L432.77,599.25 L434.08,599.50 L435.42,599.75 L436.78,600.00 L438.16,600.25 L439.57,600.50 L441.01,600.76 L442.46,601.01 L443.94,601.26 L445.44,601.52 L446.96,601.77 L448.51,602.02 L450.07,602.28 L451.66,602.53 L453.26,602.78 L454.89,603.03 L456.53,603.28 L458.19,603.52 L459.88,603.77 L461.58,604.02 L463.29,604.26 L465.03,604.50 L466.78,604.74 L468.55,604.98 L470.34,605.21 L472.14,605.45 L473.96,605.68 L475.80,605.91 L477.65,606.13 L479.52,606.36 L481.40,606.58 L483.30,606.80"/>
<path class="ft" d="M347.50,630.20 L347.69,624.41 L348.03,623.90 L348.48,623.29 L349.00,622.64 L349.60,621.96 L350.26,621.29 L350.98,620.63 L351.76,619.99 L352.58,619.37 L353.45,618.77 L354.36,618.18 L355.32,617.60 L356.32,617.03 L357.35,616.47 L358.43,615.92 L359.54,615.36 L360.68,614.82 L361.86,614.27 L363.08,613.72 L364.32,613.18 L365.60,612.64 L366.91,612.10 L368.25,611.57 L369.61,611.04 L371.01,610.51 L372.44,609.99 L373.89,609.47 L375.37,608.96 L376.87,608.46 L378.41,607.96 L379.96,607.47 L381.55,606.99 L383.16,606.52 L384.79,606.05 L386.45,605.60 L388.13,605.15 L389.83,604.71 L391.56,604.28 L393.31,603.86 L395.08,603.45 L396.88,603.05 L398.70,602.66 L400.54,602.28 L402.40,601.91 L404.28,601.55 L406.18,601.20 L408.11,600.86 L410.05,600.53 L412.02,600.21 L414.00,599.90 L415.20,604.20 L415.48,604.24 L415.95,604.30 L416.53,604.38 L417.18,604.47 L417.91,604.57 L418.70,604.67 L419.54,604.79 L420.43,604.91 L421.37,605.03 L422.35,605.17 L423.38,605.31 L424.44,605.45 L425.53,605.60 L426.66,605.75 L427.82,605.91 L429.02,606.08 L430.24,606.24 L431.49,606.41 L432.77,606.59 L434.08,606.77 L435.42,606.95 L436.78,607.14 L438.16,607.33 L439.57,607.53 L441.01,607.72 L442.46,607.93 L443.94,608.13 L445.44,608.34 L446.96,608.55 L448.51,608.77 L450.07,608.98 L451.66,609.21 L453.26,609.43 L454.89,609.66 L456.53,609.89 L458.19,610.12 L459.88,610.36 L461.58,610.60 L463.29,610.84 L465.03,611.09 L466.78,611.34 L468.55,611.59 L470.34,611.84 L472.14,612.10 L473.96,612.36 L475.80,612.62 L477.65,612.89 L479.52,613.16 L481.40,613.43 L483.30,613.70"/>
<path class="ft" d="M347.50,630.20 L347.69,624.63 L348.03,624.50 L348.48,624.33 L349.00,624.13 L349.60,623.91 L350.26,623.66 L350.98,623.40 L351.76,623.12 L352.58,622.83 L353.45,622.52 L354.36,622.21 L355.32,621.88 L356.32,621.54 L357.35,621.20 L358.43,620.84 L359.54,620.49 L360.68,620.12 L361.86,619.76 L363.08,619.39 L364.32,619.01 L365.60,618.64 L366.91,618.26 L368.25,617.88 L369.61,617.50 L371.01,617.12 L372.44,616.74 L373.89,616.36 L375.37,615.99 L376.87,615.61 L378.41,615.24 L379.96,614.87 L381.55,614.50 L383.16,614.13 L384.79,613.77 L386.45,613.41 L388.13,613.06 L389.83,612.71 L391.56,612.36 L393.31,612.02 L395.08,611.69 L396.88,611.35 L398.70,611.03 L400.54,610.71 L402.40,610.39 L404.28,610.08 L406.18,609.77 L408.11,609.47 L410.05,609.17 L412.02,608.88 L414.00,608.60 L415.20,612.90 L415.48,612.94 L415.95,613.01 L416.53,613.09 L417.18,613.19 L417.91,613.29 L418.70,613.40 L419.54,613.52 L420.43,613.63 L421.37,613.76 L422.35,613.89 L423.38,614.02 L424.44,614.15 L425.53,614.28 L426.66,614.41 L427.82,614.55 L429.02,614.69 L430.24,614.82 L431.49,614.96 L432.77,615.09 L434.08,615.23 L435.42,615.36 L436.78,615.49 L438.16,615.62 L439.57,615.75 L441.01,615.88 L442.46,616.01 L443.94,616.13 L445.44,616.26 L446.96,616.38 L448.51,616.50 L450.07,616.61 L451.66,616.73 L453.26,616.84 L454.89,616.95 L456.53,617.06 L458.19,617.16 L459.88,617.27 L461.58,617.37 L463.29,617.47 L465.03,617.56 L466.78,617.66 L468.55,617.75 L470.34,617.84 L472.14,617.93 L473.96,618.01 L475.80,618.09 L477.65,618.17 L479.52,618.25 L481.40,618.33 L483.30,618.40"/>
<path class="ft" d="M347.50,630.20 L347.69,624.68 L348.03,624.65 L348.48,624.60 L349.00,624.55 L349.60,624.49 L350.26,624.42 L350.98,624.35 L351.76,624.27 L352.58,624.19 L353.45,624.10 L354.36,624.00 L355.32,623.90 L356.32,623.80 L357.35,623.69 L358.43,623.57 L359.54,623.45 L360.68,623.33 L361.86,623.20 L363.08,623.07 L364.32,622.93 L365.60,622.79 L366.91,622.64 L368.25,622.49 L369.61,622.33 L371.01,622.17 L372.44,622.00 L373.89,621.83 L375.37,621.65 L376.87,621.47 L378.41,621.28 L379.96,621.08 L381.55,620.89 L383.16,620.68 L384.79,620.47 L386.45,620.26 L388.13,620.04 L389.83,619.81 L391.56,619.58 L393.31,619.34 L395.08,619.10 L396.88,618.85 L398.70,618.59 L400.54,618.33 L402.40,618.06 L404.28,617.78 L406.18,617.50 L408.11,617.21 L410.05,616.92 L412.02,616.61 L414.00,616.30 L415.20,619.80 L415.48,619.83 L415.95,619.88 L416.53,619.95 L417.18,620.02 L417.91,620.09 L418.70,620.17 L419.54,620.26 L420.43,620.34 L421.37,620.43 L422.35,620.52 L423.38,620.61 L424.44,620.70 L425.53,620.79 L426.66,620.88 L427.82,620.97 L429.02,621.06 L430.24,621.15 L431.49,621.23 L432.77,621.31 L434.08,621.40 L435.42,621.48 L436.78,621.55 L438.16,621.63 L439.57,621.70 L441.01,621.78 L442.46,621.85 L443.94,621.91 L445.44,621.98 L446.96,622.04 L448.51,622.10 L450.07,622.16 L451.66,622.22 L453.26,622.27 L454.89,622.32 L456.53,622.37 L458.19,622.42 L459.88,622.47 L461.58,622.51 L463.29,622.55 L465.03,622.59 L466.78,622.63 L468.55,622.67 L470.34,622.70 L472.14,622.73 L473.96,622.77 L475.80,622.79 L477.65,622.82 L479.52,622.85 L481.40,622.88 L483.30,622.90"/>
<path class="ax" d="M315,545.8 V641.8 H485.5"/>
<path class="tk" d="M311.8,548.5 H315"/>
<path class="tk" d="M311.8,590.1 H315"/>
<path class="tk" d="M311.8,631 H315"/>
<path class="tk" d="M315,641.8 V644.8"/>
<path class="tk" d="M398.75,641.8 V644.8"/>
<path class="tk" d="M482.5,641.8 V644.8"/>
<text x="308.7" y="551.1" text-anchor="end" class="tl">80</text>
<text x="308.7" y="633.6" text-anchor="end" class="tl">0</text>
<text x="315" y="654.9" text-anchor="middle" class="tl">0</text>
<text x="398.75" y="654.9" text-anchor="middle" class="tl">150</text>
<text x="482.5" y="654.9" text-anchor="middle" class="tl">300</text>
<text x="400.55" y="668.2" text-anchor="middle" class="at" textLength="32.8" lengthAdjust="spacingAndGlyphs">Time (min)</text>
<text transform="translate(293.4,590.1) rotate(-90)" text-anchor="middle" class="at" textLength="44" lengthAdjust="spacingAndGlyphs">Response (RU)</text>
<text x="511.8" y="603.9" text-anchor="end" class="cl">31.3 nM</text>
<text x="511.8" y="612.6" text-anchor="end" class="cl">15.6 nM</text>
<text x="511.8" y="621.3" text-anchor="end" class="cl">7.8 nM</text>
<text x="511.8" y="629.9" text-anchor="end" class="cl">3.9 nM</text>
</svg>
</body></html>
